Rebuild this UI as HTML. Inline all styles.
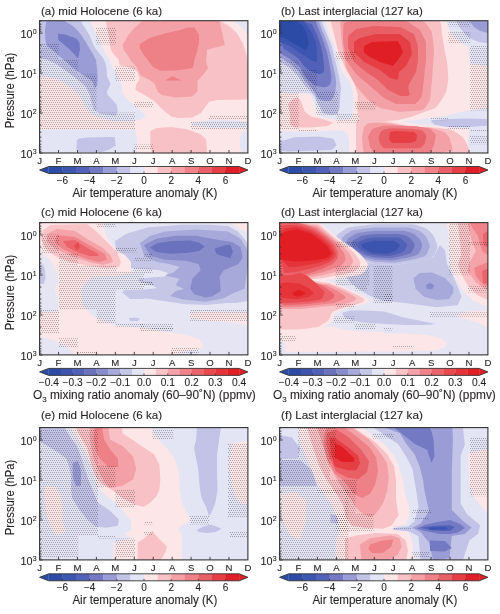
<!DOCTYPE html><html><head><meta charset="utf-8"><style>html,body{margin:0;padding:0;background:#fff;overflow:hidden}svg{display:block;will-change:transform}text{stroke:#231f20;stroke-width:0.1px;paint-order:stroke}</style></head><body>
<svg width="500" height="614" viewBox="0 0 500 614">
<defs>
<pattern id="stip" patternUnits="userSpaceOnUse" width="4" height="4" x="0" y="0"><path d="M0 0h1v1h-1zM2 0h1v1h-1zM1 2h1v1h-1zM3 2h1v1h-1z" fill="#000" fill-opacity="0.3"/></pattern>
<clipPath id="clipa"><rect x="39.6" y="20.7" width="208.3" height="132.3"/></clipPath>
<clipPath id="clipb"><rect x="279.6" y="20.7" width="208.3" height="132.3"/></clipPath>
<clipPath id="clipc"><rect x="39.6" y="222.6" width="208.3" height="132.3"/></clipPath>
<clipPath id="clipd"><rect x="279.6" y="222.6" width="208.3" height="132.3"/></clipPath>
<clipPath id="clipe"><rect x="39.6" y="427.6" width="208.3" height="132.3"/></clipPath>
<clipPath id="clipf"><rect x="279.6" y="427.6" width="208.3" height="132.3"/></clipPath>
</defs>
<rect width="500" height="614" fill="#fff"/>
<g clip-path="url(#clipa)">
<rect x="39.6" y="20.7" width="208.3" height="132.3" fill="#fde6e7"/>
<path d="M39.6 20.7 L90.5 20.7 L91.5 24.0 L93.5 28.0 L95.5 32.0 L97.5 36.0 L99.5 40.0 L101.0 44.0 L103.0 48.0 L105.0 52.0 L107.5 56.0 L109.5 60.0 L111.0 64.0 L113.0 68.0 L116.0 72.0 L118.5 78.0 L121.0 84.0 L122.6 87.2 L121.8 92.0 L125.0 96.8 L131.4 103.2 L137.8 108.0 L144.4 114.2 L145.2 117.4 L138.0 120.6 L130.0 121.6 L39.6 121.6Z" fill="#e4e5f4"/>
<path d="M39.6 129.4 L134.8 129.4 L136.4 135.0 L137.2 143.0 L136.4 153.5 L39.6 153.5Z" fill="#e4e5f4"/>
<path d="M39.6 76.5 L50.2 77.2 L60.0 80.0 L67.0 85.6 L75.4 91.2 L81.0 99.0 L86.0 108.0 L92.0 114.0 L100.0 117.5 L112.5 121.0 L130.0 121.6 L39.6 121.6Z" fill="#fde6e7"/>
<path d="M39.6 20.7 L81.0 20.7 L82.0 23.0 L85.0 28.0 L87.5 32.0 L90.0 36.0 L91.5 40.0 L93.0 44.0 L95.0 48.0 L99.0 53.0 L103.0 58.0 L105.0 62.0 L106.5 68.0 L107.0 76.0 L110.6 84.0 L107.0 91.5 L107.6 95.0 L112.4 99.8 L116.4 104.6 L118.0 111.0 L115.6 115.8 L108.0 114.8 L100.0 113.5 L94.0 110.0 L92.0 104.0 L90.0 95.0 L86.0 87.0 L78.2 80.0 L67.0 71.6 L57.2 64.6 L47.4 59.7 L39.6 58.3Z" fill="#c2c3e6"/>
<path d="M76.8 140.5 L78.9 138.4 L87.3 137.4 L114.6 137.0 L115.7 145.8 L108.3 150.0 L102.0 152.0 L77.8 152.0 L76.4 147.9Z" fill="#c2c3e6"/>
<path d="M46.4 20.7 L64.0 20.7 L67.0 22.5 L70.0 24.0 L74.0 27.0 L78.0 31.0 L82.0 36.0 L84.5 40.0 L87.5 45.0 L90.5 50.0 L93.5 55.0 L96.0 60.0 L97.0 68.0 L97.8 80.0 L97.0 86.0 L95.0 88.0 L92.2 81.0 L81.0 73.7 L72.6 67.4 L62.8 59.0 L53.0 50.6 L47.4 46.2 L45.3 40.0 L44.9 30.5Z" fill="#9a9dd5"/>
<path d="M57.9 33.6 L66.3 34.7 L70.0 36.5 L74.0 37.5 L77.5 39.5 L79.5 43.0 L80.0 50.0 L78.0 58.5 L73.6 53.6 L68.4 48.3 L62.1 43.1 L58.3 40.0Z" fill="#7479c3"/>
<path d="M106.0 20.7 L219.6 20.7 L228.0 25.2 L236.4 32.6 L242.7 43.1 L246.9 55.7 L249.0 68.3 L249.0 99.6 L217.5 100.0 L209.1 101.7 L206.0 105.9 L200.7 113.2 L192.3 117.4 L177.6 118.1 L171.3 116.4 L160.8 108.0 L155.2 101.8 L148.0 97.0 L139.6 92.2 L135.4 89.8 L136.0 85.0 L139.6 79.0 L137.2 71.8 L132.4 68.2 L127.6 67.0 L119.8 65.2 L118.6 59.8 L114.4 55.0 L112.0 52.0 L110.0 46.0 L109.5 40.0 L108.0 32.0 L106.5 26.0Z" fill="#f8c1c5"/>
<path d="M232.2 20.7 L249.0 20.7 L249.0 38.9 L244.8 30.5 L239.5 25.2Z" fill="#e4e5f4"/>
<path d="M142.4 20.7 L219.6 20.7 L222.1 32.6 L224.8 45.2 L207.0 49.4 L206.0 62.0 L208.0 68.3 L202.8 75.0 L197.5 81.0 L197.5 91.2 L192.3 96.5 L175.5 97.5 L162.0 95.0 L158.0 92.0 L156.0 88.0 L155.0 84.0 L150.4 80.2 L140.8 75.4 L136.0 66.0 L131.2 61.0 L127.6 55.0 L123.8 50.0 L122.6 45.2 L128.0 35.6 L134.0 28.4Z" fill="#f3a0a6"/>
<path d="M139.4 47.6 L140.0 44.0 L149.6 38.0 L158.0 35.6 L165.0 33.6 L181.8 29.5 L188.1 27.4 L194.4 27.4 L199.0 34.7 L199.0 43.1 L196.5 53.6 L194.4 59.9 L193.3 66.2 L192.3 68.3 L175.5 70.4 L160.8 70.8 L152.8 67.0 L148.4 60.8 L143.6 54.8Z" fill="#ee8087"/>
<path d="M165.0 80.5 L172.3 76.3 L181.8 80.5Z" fill="#ee8087"/>
<path d="M150.3 131.1 L156.6 128.0 L171.3 126.9 L186.0 129.0 L200.7 134.2 L206.0 139.5 L207.0 150.0 L206.0 154.0 L152.4 154.0 L150.3 145.8Z" fill="#f8c1c5"/>
<path d="M191.2 122.7 L207.0 120.6 L219.6 119.5 L236.4 120.6 L244.8 121.5 L249.0 121.0 L249.0 128.0 L244.8 127.5 L236.4 128.0 L211.2 128.0 L196.5 125.9 L191.2 124.8Z" fill="#e4e5f4"/>
<path d="M240.6 135.3 L244.8 130.0 L249.0 129.0 L249.0 154.0 L242.7 154.0 L239.5 145.8Z" fill="#e4e5f4"/>
<path d="M96.0 27.0 L116.0 27.0 L116.0 44.5 L96.0 44.5Z" fill="url(#stip)"/>
<path d="M39.6 44.0 L58.6 44.0 L58.6 59.0 L78.2 59.0 L78.2 74.4 L96.4 74.4 L96.4 112.5 L135.0 112.5 L135.0 129.4 L39.6 129.4Z" fill="url(#stip)"/>
<path d="M115.0 66.4 L134.8 66.4 L134.8 80.8 L115.0 80.8Z" fill="url(#stip)"/>
<path d="M134.0 101.4 L153.2 101.4 L153.2 107.0 L134.0 107.0Z" fill="url(#stip)"/>
<path d="M134.0 144.6 L153.2 144.6 L153.2 149.4 L134.0 149.4Z" fill="url(#stip)"/>
<path d="M191.0 121.0 L249.0 121.0 L249.0 129.0 L191.0 129.0Z" fill="url(#stip)"/>
<path d="M209.0 115.5 L249.0 115.5 L249.0 119.0 L209.0 119.0Z" fill="url(#stip)"/>
</g>
<rect x="39.6" y="20.7" width="208.3" height="132.3" fill="none" stroke="#333" stroke-width="1.1"/>
<path d="M39.6 33.10h3 M39.6 45.14h1.8 M39.6 52.18h1.8 M39.6 57.18h1.8 M39.6 61.06h1.8 M39.6 64.23h1.8 M39.6 66.90h1.8 M39.6 69.22h1.8 M39.6 71.27h1.8 M39.6 73.10h3 M39.6 85.14h1.8 M39.6 92.18h1.8 M39.6 97.18h1.8 M39.6 101.06h1.8 M39.6 104.23h1.8 M39.6 106.90h1.8 M39.6 109.22h1.8 M39.6 111.27h1.8 M39.6 113.10h3 M39.6 125.14h1.8 M39.6 132.18h1.8 M39.6 137.18h1.8 M39.6 141.06h1.8 M39.6 144.23h1.8 M39.6 146.90h1.8 M39.6 149.22h1.8 M39.6 151.27h1.8 M39.6 153.10h3 M39.6 21.06h1.8 M39.6 24.23h1.8 M39.6 26.90h1.8 M39.6 29.22h1.8 M39.6 31.27h1.8 M58.54 153.0v-3 M77.47 153.0v-3 M96.41 153.0v-3 M115.35 153.0v-3 M134.28 153.0v-3 M153.22 153.0v-3 M172.15 153.0v-3 M191.09 153.0v-3 M210.03 153.0v-3 M228.96 153.0v-3" stroke="#333" stroke-width="0.9" fill="none"/>
<text x="32.4" y="37.7" font-family="Liberation Sans, sans-serif" font-size="10.8" text-anchor="end" fill="#231f20">10</text>
<text x="32.7" y="33.6" font-family="Liberation Sans, sans-serif" font-size="7" fill="#231f20">0</text>
<text x="32.4" y="77.7" font-family="Liberation Sans, sans-serif" font-size="10.8" text-anchor="end" fill="#231f20">10</text>
<text x="32.7" y="73.6" font-family="Liberation Sans, sans-serif" font-size="7" fill="#231f20">1</text>
<text x="32.4" y="117.7" font-family="Liberation Sans, sans-serif" font-size="10.8" text-anchor="end" fill="#231f20">10</text>
<text x="32.7" y="113.6" font-family="Liberation Sans, sans-serif" font-size="7" fill="#231f20">2</text>
<text x="32.4" y="157.7" font-family="Liberation Sans, sans-serif" font-size="10.8" text-anchor="end" fill="#231f20">10</text>
<text x="32.7" y="153.6" font-family="Liberation Sans, sans-serif" font-size="7" fill="#231f20">3</text>
<text x="39.6" y="164.0" font-family="Liberation Sans, sans-serif" font-size="9.6" text-anchor="middle" fill="#231f20">J</text>
<text x="58.5" y="164.0" font-family="Liberation Sans, sans-serif" font-size="9.6" text-anchor="middle" fill="#231f20">F</text>
<text x="77.5" y="164.0" font-family="Liberation Sans, sans-serif" font-size="9.6" text-anchor="middle" fill="#231f20">M</text>
<text x="96.4" y="164.0" font-family="Liberation Sans, sans-serif" font-size="9.6" text-anchor="middle" fill="#231f20">A</text>
<text x="115.3" y="164.0" font-family="Liberation Sans, sans-serif" font-size="9.6" text-anchor="middle" fill="#231f20">M</text>
<text x="134.3" y="164.0" font-family="Liberation Sans, sans-serif" font-size="9.6" text-anchor="middle" fill="#231f20">J</text>
<text x="153.2" y="164.0" font-family="Liberation Sans, sans-serif" font-size="9.6" text-anchor="middle" fill="#231f20">J</text>
<text x="172.2" y="164.0" font-family="Liberation Sans, sans-serif" font-size="9.6" text-anchor="middle" fill="#231f20">A</text>
<text x="191.1" y="164.0" font-family="Liberation Sans, sans-serif" font-size="9.6" text-anchor="middle" fill="#231f20">S</text>
<text x="210.0" y="164.0" font-family="Liberation Sans, sans-serif" font-size="9.6" text-anchor="middle" fill="#231f20">O</text>
<text x="229.0" y="164.0" font-family="Liberation Sans, sans-serif" font-size="9.6" text-anchor="middle" fill="#231f20">N</text>
<text x="247.9" y="164.0" font-family="Liberation Sans, sans-serif" font-size="9.6" text-anchor="middle" fill="#231f20">D</text>
<text x="41.0" y="14.6" font-family="Liberation Sans, sans-serif" font-size="11" fill="#231f20" textLength="121" lengthAdjust="spacingAndGlyphs">(a) mid Holocene (6 ka)</text>
<path d="M39.6 170.0 L48.8 166.5 L48.8 173.5 Z" fill="#2b4ba6"/>
<path d="M247.9 170.0 L239.2 166.5 L239.2 173.5 Z" fill="#e01e26"/>
<rect x="48.80" y="166.5" width="13.90" height="7.0" fill="#2b4ba6"/>
<rect x="62.40" y="166.5" width="13.90" height="7.0" fill="#3b55b0"/>
<rect x="76.00" y="166.5" width="13.90" height="7.0" fill="#5261b8"/>
<rect x="89.60" y="166.5" width="13.90" height="7.0" fill="#7479c3"/>
<rect x="103.20" y="166.5" width="13.90" height="7.0" fill="#9a9dd5"/>
<rect x="116.80" y="166.5" width="13.90" height="7.0" fill="#c2c3e6"/>
<rect x="130.40" y="166.5" width="13.90" height="7.0" fill="#e4e5f4"/>
<rect x="144.00" y="166.5" width="13.90" height="7.0" fill="#fde6e7"/>
<rect x="157.60" y="166.5" width="13.90" height="7.0" fill="#f8c1c5"/>
<rect x="171.20" y="166.5" width="13.90" height="7.0" fill="#f3a0a6"/>
<rect x="184.80" y="166.5" width="13.90" height="7.0" fill="#ee8087"/>
<rect x="198.40" y="166.5" width="13.90" height="7.0" fill="#e95f66"/>
<rect x="212.00" y="166.5" width="13.90" height="7.0" fill="#e53e44"/>
<rect x="225.60" y="166.5" width="13.90" height="7.0" fill="#e01e26"/>
<path d="M39.6 170.0 L48.8 166.5 L239.2 166.5 L247.9 170.0 L239.2 173.5 L48.8 173.5 Z" fill="none" stroke="#333" stroke-width="0.9"/>
<path d="M62.40 173.5v-2 M89.60 173.5v-2 M116.80 173.5v-2 M144.00 173.5v-2 M171.20 173.5v-2 M198.40 173.5v-2 M225.60 173.5v-2" stroke="#333" stroke-width="0.8"/>
<text x="62.4" y="184.1" font-family="Liberation Sans, sans-serif" font-size="10" text-anchor="middle" fill="#231f20">−6</text>
<text x="89.6" y="184.1" font-family="Liberation Sans, sans-serif" font-size="10" text-anchor="middle" fill="#231f20">−4</text>
<text x="116.8" y="184.1" font-family="Liberation Sans, sans-serif" font-size="10" text-anchor="middle" fill="#231f20">−2</text>
<text x="144.0" y="184.1" font-family="Liberation Sans, sans-serif" font-size="10" text-anchor="middle" fill="#231f20">0</text>
<text x="171.2" y="184.1" font-family="Liberation Sans, sans-serif" font-size="10" text-anchor="middle" fill="#231f20">2</text>
<text x="198.4" y="184.1" font-family="Liberation Sans, sans-serif" font-size="10" text-anchor="middle" fill="#231f20">4</text>
<text x="225.6" y="184.1" font-family="Liberation Sans, sans-serif" font-size="10" text-anchor="middle" fill="#231f20">6</text>
<text x="72.4" y="196.6" font-family="Liberation Sans, sans-serif" font-size="12.4" fill="#231f20" textLength="145" lengthAdjust="spacingAndGlyphs">Air temperature anomaly (K)</text>
<g clip-path="url(#clipb)">
<rect x="279.6" y="20.7" width="208.3" height="132.3" fill="#fde6e7"/>
<path d="M330.0 36.0 L330.7 37.7 L331.5 39.5 L332.3 41.4 L333.2 43.5 L334.1 45.7 L334.8 48.0 L335.5 50.4 L336.2 53.0 L337.2 56.0 L338.3 59.3 L339.4 62.9 L340.3 66.8 L342.8 72.3 L350.4 83.2 L352.6 90.6 L352.9 96.9 L353.0 103.9 L352.8 111.5 L351.4 118.2 L346.5 120.0 L340.8 120.1 L335.2 119.5 L329.6 118.4 L324.4 117.3 L319.4 116.0 L310.4 94.4 L307.1 93.5 L304.0 93.1 L301.0 93.2 L298.0 93.3 L295.0 93.5 L292.0 93.3 L288.9 93.2 L285.9 93.0 L282.7 93.0 L279.6 92.6 L279.6 83.9 L279.6 77.3 L279.6 72.1 L279.6 67.9 L279.6 64.3 L279.6 61.3 L279.6 58.7 L279.6 56.4 L279.6 54.4 L279.6 52.6 L279.6 50.9 L279.6 49.4 L279.6 47.9 L279.6 46.6 L279.6 45.4 L279.6 44.2 L279.6 43.1 L279.6 42.0 L279.6 40.9 L279.6 39.9 L279.6 38.9 L279.6 37.9 L279.6 37.0 L279.6 36.0 L279.6 35.0 L279.6 34.1 L279.6 33.1 L279.6 32.1 L279.6 31.1 L279.6 30.0 L279.6 28.9 L279.6 27.8 L279.6 26.6 L279.6 25.4 L279.6 24.1 L279.6 22.6 L279.6 21.1 L281.0 20.7 L282.7 20.7 L284.2 20.7 L285.6 20.7 L286.9 20.7 L288.1 20.7 L289.2 20.7 L290.2 20.7 L291.2 20.7 L292.1 20.7 L293.0 20.7 L293.9 20.7 L294.7 20.7 L295.6 20.7 L296.4 20.7 L297.2 20.7 L298.0 20.7 L298.8 20.7 L299.6 20.7 L300.4 20.7 L301.3 20.7 L302.1 20.7 L303.0 20.7 L303.9 20.7 L304.8 20.7 L305.8 20.7 L306.8 20.7 L307.9 20.7 L309.1 20.7 L310.4 20.7 L311.8 20.7 L313.3 20.7 L315.0 20.7 L316.9 20.7 L319.1 20.7 L321.6 20.7 L324.5 20.7 L325.1 22.2 L325.6 23.7 L326.2 25.2 L326.7 26.7 L327.3 28.1 L327.8 29.7 L328.4 31.2 L328.9 32.8 L329.5 34.4Z" fill="#e4e5f4"/>
<path d="M327.6 36.0 L328.2 37.6 L328.9 39.3 L329.7 41.0 L330.4 42.9 L331.3 44.9 L331.9 47.0 L332.4 49.2 L332.9 51.5 L333.5 54.1 L334.3 57.0 L335.2 60.2 L336.2 63.7 L337.0 67.6 L338.0 72.0 L339.3 77.3 L340.3 83.0 L340.9 89.0 L340.5 94.6 L340.0 100.6 L339.6 108.0 L337.6 113.8 L333.2 115.0 L328.1 114.4 L323.0 112.9 L314.2 96.3 L309.4 89.8 L306.1 86.9 L302.9 83.1 L300.3 79.2 L298.0 76.0 L296.0 74.0 L294.2 72.2 L292.5 70.5 L291.0 69.0 L289.5 67.7 L288.0 66.8 L286.5 65.9 L285.1 65.0 L283.7 64.1 L282.3 63.2 L280.9 62.4 L279.6 61.3 L279.6 58.7 L279.6 56.4 L279.6 54.4 L279.6 52.6 L279.6 50.9 L279.6 49.4 L279.6 47.9 L279.6 46.6 L279.6 45.4 L279.6 44.2 L279.6 43.1 L279.6 42.0 L279.6 40.9 L279.6 39.9 L279.6 38.9 L279.6 37.9 L279.6 37.0 L279.6 36.0 L279.6 35.0 L279.6 34.1 L279.6 33.1 L279.6 32.1 L279.6 31.1 L279.6 30.0 L279.6 28.9 L279.6 27.8 L279.6 26.6 L279.6 25.4 L279.6 24.1 L279.6 22.6 L279.6 21.1 L281.0 20.7 L282.7 20.7 L284.2 20.7 L285.6 20.7 L286.9 20.7 L288.1 20.7 L289.2 20.7 L290.2 20.7 L291.2 20.7 L292.1 20.7 L293.0 20.7 L293.9 20.7 L294.7 20.7 L295.6 20.7 L296.4 20.7 L297.2 20.7 L298.0 20.7 L298.8 20.7 L299.6 20.7 L300.4 20.7 L301.3 20.7 L302.1 20.7 L303.0 20.7 L303.9 20.7 L304.8 20.7 L305.8 20.7 L306.8 20.7 L307.9 20.7 L309.1 20.7 L310.4 20.7 L311.8 20.7 L313.3 20.7 L315.0 20.7 L316.9 20.7 L319.1 20.7 L321.5 20.7 L322.0 22.1 L322.6 23.5 L323.1 24.8 L323.6 26.2 L324.1 27.5 L324.6 28.9 L325.2 30.2 L325.8 31.6 L326.4 33.0 L327.0 34.5Z" fill="#c2c3e6"/>
<path d="M324.5 36.0 L325.1 37.4 L325.6 38.9 L326.3 40.5 L326.9 42.1 L327.6 43.9 L328.2 45.8 L328.7 47.8 L329.3 49.9 L329.9 52.3 L330.7 54.9 L331.4 57.7 L332.1 60.8 L332.8 64.2 L333.6 68.1 L334.7 72.7 L335.6 77.7 L336.2 83.1 L335.8 88.1 L334.9 92.8 L333.4 97.3 L330.9 100.5 L326.9 100.9 L322.7 100.4 L318.5 99.0 L312.2 89.1 L308.3 84.4 L305.1 80.9 L302.3 76.8 L299.9 73.2 L298.0 70.6 L296.3 69.0 L294.7 67.6 L293.2 66.3 L291.8 65.0 L290.5 63.9 L289.2 63.0 L287.9 62.2 L286.7 61.5 L285.4 60.7 L284.2 60.0 L282.9 59.2 L281.8 58.4 L281.2 56.7 L280.7 55.3 L280.1 53.9 L279.6 52.6 L279.6 50.9 L279.6 49.4 L279.6 47.9 L279.6 46.6 L279.6 45.4 L279.6 44.2 L279.6 43.1 L279.6 42.0 L279.6 40.9 L279.6 39.9 L279.6 38.9 L279.6 37.9 L279.6 37.0 L279.6 36.0 L279.6 35.0 L279.6 34.1 L279.6 33.1 L279.6 32.1 L279.6 31.1 L279.6 30.0 L279.6 28.9 L279.6 27.8 L279.6 26.6 L279.6 25.4 L279.6 24.1 L279.6 22.6 L279.6 21.1 L281.0 20.7 L282.7 20.7 L284.2 20.7 L285.6 20.7 L286.9 20.7 L288.1 20.7 L289.2 20.7 L290.2 20.7 L291.2 20.7 L292.1 20.7 L293.0 20.7 L293.9 20.7 L294.7 20.7 L295.6 20.7 L296.4 20.7 L297.2 20.7 L298.0 20.7 L298.8 20.7 L299.6 20.7 L300.4 20.7 L301.3 20.7 L302.1 20.7 L303.0 20.7 L303.9 20.7 L304.8 20.7 L305.8 20.7 L306.8 20.7 L307.9 20.7 L309.1 20.7 L310.4 20.7 L311.8 20.7 L313.3 20.7 L315.0 20.7 L316.3 21.2 L317.6 21.7 L319.1 22.3 L319.6 23.5 L320.1 24.8 L320.5 26.0 L321.0 27.2 L321.5 28.4 L321.9 29.6 L322.4 30.8 L322.9 32.1 L323.4 33.3 L324.0 34.6Z" fill="#9a9dd5"/>
<path d="M321.4 36.0 L321.9 37.3 L322.4 38.6 L322.9 39.9 L323.4 41.4 L324.0 43.0 L324.5 44.6 L325.0 46.4 L325.6 48.3 L326.3 50.4 L327.0 52.8 L327.6 55.2 L328.1 57.9 L328.7 60.8 L329.3 64.2 L330.0 68.0 L330.8 72.5 L331.4 77.3 L331.1 81.6 L329.7 84.9 L327.2 86.6 L324.1 87.2 L320.6 86.8 L317.3 86.3 L313.9 85.1 L310.3 81.8 L307.1 79.0 L304.1 74.8 L301.6 70.5 L299.6 67.1 L298.0 65.2 L296.5 64.1 L295.2 63.0 L293.9 62.0 L292.7 61.1 L291.5 60.2 L290.4 59.3 L289.3 58.6 L288.2 57.9 L287.1 57.3 L286.1 56.7 L285.0 56.0 L283.9 55.4 L282.8 54.7 L281.7 54.1 L280.6 53.4 L279.6 52.6 L279.6 50.9 L279.6 49.4 L279.6 47.9 L279.6 46.6 L279.6 45.4 L279.6 44.2 L279.6 43.1 L279.6 42.0 L279.6 40.9 L279.6 39.9 L279.6 38.9 L279.6 37.9 L279.6 37.0 L279.6 36.0 L279.6 35.0 L279.6 34.1 L279.6 33.1 L279.6 32.1 L279.6 31.1 L279.6 30.0 L279.6 28.9 L279.6 27.8 L279.6 26.6 L279.6 25.4 L279.6 24.1 L279.6 22.6 L279.6 21.1 L281.0 20.7 L282.7 20.7 L284.2 20.7 L285.6 20.7 L286.9 20.7 L288.1 20.7 L289.2 20.7 L290.2 20.7 L291.2 20.7 L292.1 20.7 L293.0 20.7 L293.9 20.7 L294.7 20.7 L295.6 20.7 L296.4 20.7 L297.2 20.7 L298.0 20.7 L298.8 20.7 L299.6 20.7 L300.4 20.7 L301.3 20.7 L302.1 20.7 L303.0 20.7 L303.9 20.7 L304.8 20.7 L305.8 20.7 L306.8 20.7 L307.9 20.7 L309.1 20.7 L310.4 20.7 L311.8 20.7 L313.3 20.7 L315.0 20.7 L315.8 21.6 L316.2 22.8 L316.7 23.9 L317.1 25.0 L317.5 26.0 L318.0 27.1 L318.4 28.2 L318.8 29.2 L319.2 30.3 L319.7 31.4 L320.1 32.5 L320.5 33.6 L320.9 34.8Z" fill="#7479c3"/>
<path d="M317.4 36.0 L317.7 37.0 L318.1 38.1 L318.6 39.3 L319.0 40.5 L319.5 41.7 L319.9 43.1 L320.4 44.6 L320.9 46.2 L321.3 47.9 L321.7 49.7 L322.1 51.6 L322.4 53.7 L322.8 56.0 L323.2 58.7 L323.5 61.5 L323.9 64.8 L324.2 68.3 L324.0 71.8 L322.2 73.2 L319.9 73.9 L317.1 73.4 L314.2 72.4 L311.6 71.5 L309.1 70.3 L306.6 68.2 L304.5 66.4 L302.4 64.0 L300.7 61.5 L299.2 59.5 L298.0 58.3 L296.9 57.4 L295.8 56.7 L294.8 55.9 L293.9 55.3 L293.0 54.6 L292.2 54.0 L291.3 53.4 L290.5 52.9 L289.7 52.4 L288.8 51.9 L288.0 51.4 L287.2 50.9 L286.4 50.3 L285.5 49.9 L284.6 49.4 L283.7 48.8 L283.4 47.8 L283.0 46.9 L282.6 46.0 L282.1 45.2 L281.6 44.3 L281.1 43.5 L280.5 42.7 L279.9 41.9 L279.6 40.9 L279.6 39.9 L279.6 38.9 L279.6 37.9 L279.6 37.0 L279.6 36.0 L279.6 35.0 L279.6 34.1 L279.6 33.1 L279.6 32.1 L279.6 31.1 L279.6 30.0 L279.6 28.9 L279.6 27.8 L279.6 26.6 L279.6 25.4 L279.6 24.1 L279.6 22.6 L279.6 21.1 L281.0 20.7 L282.7 20.7 L284.2 20.7 L285.6 20.7 L286.9 20.7 L288.1 20.7 L289.2 20.7 L290.2 20.7 L291.2 20.7 L292.1 20.7 L293.0 20.7 L293.9 20.7 L294.7 20.7 L295.6 20.7 L296.4 20.7 L297.2 20.7 L298.0 20.7 L298.8 20.7 L299.6 20.7 L300.4 20.7 L301.3 20.7 L302.1 20.7 L302.9 20.8 L303.7 21.1 L304.5 21.5 L305.2 21.8 L306.0 22.1 L306.8 22.4 L307.7 22.7 L308.5 23.0 L309.5 23.3 L310.4 23.6 L311.5 23.9 L312.1 24.6 L312.5 25.5 L312.9 26.3 L313.3 27.2 L313.7 28.0 L314.1 28.8 L314.5 29.7 L315.0 30.5 L315.4 31.3 L315.8 32.2 L316.2 33.1 L316.6 34.0 L317.0 35.0Z" fill="#5261b8"/>
<path d="M313.3 36.0 L313.6 36.8 L313.9 37.7 L314.2 38.6 L314.6 39.5 L314.9 40.5 L315.3 41.6 L315.7 42.8 L316.1 44.1 L316.3 45.3 L316.4 46.6 L316.5 48.0 L316.7 49.6 L316.9 51.3 L317.1 53.2 L317.0 55.0 L317.0 57.1 L316.9 59.3 L316.8 61.9 L314.6 61.5 L312.5 61.1 L310.0 59.6 L307.8 58.0 L305.9 56.7 L304.4 55.6 L303.0 54.7 L301.8 53.9 L300.7 53.1 L299.7 52.5 L298.8 51.9 L298.0 51.3 L297.2 50.8 L296.5 50.3 L295.8 49.9 L295.1 49.4 L294.5 49.0 L293.9 48.6 L293.3 48.2 L292.7 47.8 L292.2 47.4 L291.6 47.1 L291.1 46.7 L290.5 46.3 L289.9 46.0 L289.3 45.7 L288.6 45.4 L287.9 45.1 L287.1 44.8 L286.4 44.5 L285.5 44.1 L284.6 43.7 L283.6 43.3 L282.6 42.9 L281.4 42.4 L280.1 41.8 L279.6 40.9 L279.6 39.9 L279.6 38.9 L279.6 37.9 L279.6 37.0 L279.6 36.0 L279.6 35.0 L279.6 34.1 L279.6 33.1 L279.6 32.1 L279.6 31.1 L279.6 30.0 L279.6 28.9 L279.6 27.8 L279.6 26.6 L279.6 25.4 L279.6 24.1 L279.6 22.6 L279.6 21.1 L281.0 20.7 L282.7 20.7 L284.2 20.7 L285.6 20.7 L286.9 20.7 L288.1 20.7 L289.2 20.7 L290.2 20.7 L291.2 20.7 L292.1 20.7 L293.0 20.7 L293.9 20.7 L294.7 20.7 L295.6 20.7 L296.4 20.7 L297.2 20.7 L298.0 20.7 L298.8 20.7 L299.6 20.7 L300.4 20.7 L301.3 20.7 L302.1 20.7 L302.9 20.8 L303.5 21.6 L304.1 22.2 L304.7 22.9 L305.2 23.5 L305.7 24.1 L306.2 24.7 L306.7 25.3 L307.2 25.8 L307.6 26.4 L308.0 27.0 L308.3 27.6 L308.7 28.2 L309.1 28.8 L309.5 29.4 L309.9 29.9 L310.3 30.5 L310.7 31.1 L311.1 31.7 L311.5 32.4 L312.0 33.0 L312.4 33.7 L312.8 34.4 L313.0 35.2Z" fill="#3b55b0"/>
<path d="M307.4 36.0 L307.5 36.5 L307.6 37.0 L307.7 37.5 L307.8 38.1 L307.9 38.7 L308.1 39.3 L308.2 39.9 L308.3 40.6 L308.5 41.3 L308.6 42.1 L308.8 43.0 L309.0 44.0 L308.7 44.6 L308.3 45.3 L308.0 46.0 L307.6 46.7 L307.3 47.5 L306.9 48.2 L306.5 49.1 L306.0 49.9 L304.8 49.4 L303.7 48.9 L302.8 48.4 L301.9 47.9 L301.1 47.5 L300.4 47.2 L299.7 46.9 L299.1 46.6 L298.5 46.3 L298.0 46.0 L297.5 45.7 L297.0 45.4 L296.6 45.1 L296.1 44.9 L295.7 44.6 L295.3 44.4 L294.9 44.1 L294.5 43.9 L294.1 43.7 L293.7 43.4 L293.3 43.2 L292.9 43.0 L292.6 42.7 L292.2 42.5 L291.8 42.2 L291.3 42.0 L290.9 41.7 L290.5 41.5 L290.0 41.2 L289.5 40.9 L289.0 40.6 L288.4 40.3 L287.8 39.9 L287.1 39.6 L286.2 39.2 L285.3 38.7 L284.2 38.2 L282.9 37.6 L281.4 36.9 L279.6 36.0 L279.6 35.0 L279.6 34.1 L279.6 33.1 L279.6 32.1 L279.6 31.1 L279.6 30.0 L279.6 28.9 L279.6 27.8 L279.6 26.6 L279.6 25.4 L279.6 24.1 L279.6 22.6 L279.6 21.1 L281.0 20.7 L282.7 20.7 L284.2 20.7 L285.6 20.7 L286.9 20.7 L288.1 20.7 L289.2 20.7 L290.2 20.7 L291.2 20.7 L292.1 20.7 L293.0 20.7 L293.9 20.7 L294.7 20.7 L295.6 20.7 L296.4 21.0 L297.2 21.6 L298.0 22.2 L298.7 22.7 L299.3 23.2 L299.9 23.7 L300.5 24.1 L301.1 24.5 L301.6 24.9 L302.1 25.3 L302.6 25.7 L303.0 26.1 L303.4 26.7 L303.6 27.3 L303.9 27.8 L304.2 28.4 L304.4 28.9 L304.7 29.3 L304.9 29.8 L305.1 30.2 L305.3 30.7 L305.5 31.1 L305.8 31.5 L306.0 31.9 L306.2 32.4 L306.4 32.8 L306.6 33.2 L306.8 33.6 L307.0 34.1 L307.1 34.6 L307.2 35.0 L307.3 35.5Z" fill="#2b4ba6"/>
<path d="M446.0 20.7 L449.0 30.0 L455.0 38.0 L463.0 44.0 L470.0 48.0 L488.0 50.0 L488.0 20.7Z" fill="#e4e5f4"/>
<path d="M468.0 45.0 L488.0 45.0 L488.0 66.0 L470.0 64.0Z" fill="#e4e5f4"/>
<path d="M456.0 20.7 L460.0 28.0 L465.0 34.0 L471.0 39.0 L479.0 42.0 L488.0 43.5 L488.0 20.7Z" fill="#c2c3e6"/>
<path d="M469.0 20.7 L474.0 27.0 L480.0 31.0 L488.0 33.0 L488.0 20.7Z" fill="#9a9dd5"/>
<path d="M279.6 130.8 L295.0 131.5 L319.0 131.6 L335.0 130.0 L343.0 130.8 L347.8 134.0 L349.4 142.0 L348.6 154.0 L279.6 154.0Z" fill="#e4e5f4"/>
<path d="M279.6 141.6 L295.0 137.2 L319.0 136.4 L333.4 138.8 L336.6 145.2 L331.8 150.0 L311.0 150.8 L288.6 151.6 L279.6 150.8Z" fill="#c2c3e6"/>
<path d="M470.0 127.0 L476.0 128.0 L488.0 128.0 L488.0 154.0 L470.0 154.0 L468.0 140.0Z" fill="#e4e5f4"/>
<path d="M288.6 103.6 L293.4 98.8 L298.2 97.2 L301.4 102.0 L304.6 111.6 L311.0 116.4 L323.8 119.6 L333.4 122.8 L327.0 126.0 L311.0 127.6 L295.0 127.6 L290.2 124.4 L290.2 114.8 L288.6 106.8Z" fill="#f8c1c5"/>
<path d="M445.1 52.0 L445.7 55.2 L446.3 58.4 L447.0 61.8 L447.4 65.3 L447.7 68.8 L447.9 72.4 L448.2 76.3 L448.2 80.1 L447.6 83.9 L446.9 87.7 L446.2 91.8 L444.4 95.2 L442.6 98.6 L440.3 101.8 L437.9 104.9 L435.4 107.9 L431.5 109.4 L427.7 110.7 L424.0 112.0 L420.4 113.4 L417.0 114.7 L413.5 116.0 L410.0 117.2 L406.5 118.0 L402.9 118.9 L399.4 119.7 L395.8 120.2 L392.2 120.6 L388.6 121.0 L385.0 121.4 L381.3 121.9 L377.7 121.9 L374.0 121.7 L370.2 121.5 L366.4 121.3 L362.5 121.1 L359.4 118.7 L357.8 113.0 L357.2 106.5 L357.7 99.3 L357.7 94.1 L356.7 91.0 L355.7 88.2 L354.8 85.5 L354.0 83.0 L352.9 80.9 L351.7 78.9 L350.6 77.0 L349.4 75.1 L348.3 73.2 L347.1 71.3 L346.0 69.4 L345.1 67.3 L344.2 65.2 L343.3 63.2 L342.4 61.1 L341.5 58.9 L340.5 56.7 L339.6 54.4 L338.5 52.0 L337.8 49.5 L337.1 47.0 L336.5 44.3 L335.8 41.5 L335.1 38.6 L334.3 35.5 L333.4 32.2 L332.5 28.6 L331.5 24.7 L330.8 20.7 L336.8 20.7 L341.9 20.7 L346.3 20.7 L350.2 20.7 L353.7 20.7 L356.8 20.7 L359.7 20.7 L362.3 20.7 L364.7 20.7 L366.9 20.7 L369.1 20.7 L371.1 20.7 L373.0 20.7 L374.8 20.7 L376.6 20.7 L378.3 20.7 L380.0 20.7 L381.7 20.7 L383.4 20.7 L385.0 20.7 L386.6 20.7 L388.3 20.7 L390.0 20.7 L391.7 20.7 L393.4 20.7 L395.2 20.7 L397.0 20.7 L398.9 20.7 L400.9 20.7 L403.1 20.7 L405.3 20.7 L407.7 20.7 L410.3 20.7 L413.2 20.7 L416.3 20.7 L419.8 20.7 L423.7 20.7 L428.1 20.7 L433.2 20.7 L439.2 20.7 L440.9 23.5 L441.3 27.0 L441.6 30.3 L441.9 33.5 L442.4 36.6 L442.9 39.7 L443.4 42.7 L443.9 45.8 L444.5 48.9Z" fill="#f8c1c5"/>
<path d="M433.9 52.0 L433.7 54.6 L433.5 57.1 L433.4 59.7 L433.2 62.2 L433.0 64.9 L432.8 67.5 L432.6 70.3 L432.5 73.1 L432.3 76.1 L432.1 79.2 L431.8 82.4 L431.4 85.7 L431.1 89.3 L430.7 93.1 L430.3 97.3 L429.3 101.2 L427.4 104.3 L425.4 107.6 L422.7 110.1 L418.7 110.4 L414.9 110.8 L411.3 111.1 L407.8 111.4 L404.4 111.6 L401.1 111.9 L397.7 111.5 L394.3 110.9 L391.1 110.2 L388.0 109.6 L385.0 109.0 L382.0 108.4 L379.2 107.4 L376.5 105.7 L374.0 104.0 L371.5 102.3 L369.2 100.8 L367.0 98.9 L365.1 96.6 L363.3 94.5 L361.6 92.5 L359.9 90.6 L358.3 88.7 L356.8 86.9 L355.4 84.9 L354.2 82.8 L353.1 80.7 L352.0 78.7 L350.9 76.8 L349.8 74.9 L348.7 72.9 L347.7 71.0 L346.6 69.1 L345.8 67.0 L345.5 64.8 L345.1 62.7 L344.8 60.6 L344.4 58.4 L344.1 56.3 L343.7 54.2 L343.3 52.0 L343.0 49.8 L342.6 47.5 L342.2 45.2 L341.9 42.8 L341.7 40.4 L341.5 37.9 L341.2 35.2 L341.0 32.4 L340.8 29.5 L340.5 26.3 L340.2 22.9 L341.9 20.7 L346.3 20.7 L350.2 20.7 L353.7 20.7 L356.8 20.7 L359.7 20.7 L362.3 20.7 L364.7 20.7 L366.9 20.7 L369.1 20.7 L371.1 20.7 L373.0 20.7 L374.8 20.7 L376.6 20.7 L378.3 20.7 L380.0 20.7 L381.7 20.7 L383.4 20.7 L385.0 20.7 L386.6 20.7 L388.3 20.7 L390.0 20.7 L391.7 20.7 L393.4 20.7 L395.2 20.7 L397.0 20.7 L398.9 20.7 L400.9 20.7 L403.1 20.7 L405.3 20.7 L407.7 20.7 L410.3 20.7 L413.2 20.7 L416.3 20.7 L419.8 20.7 L423.7 20.7 L425.4 22.7 L426.9 24.8 L428.4 26.9 L429.9 29.1 L431.5 31.3 L432.2 33.9 L432.5 36.6 L432.8 39.2 L433.1 41.8 L433.4 44.3 L433.7 46.9 L433.9 49.4Z" fill="#f3a0a6"/>
<path d="M426.0 52.0 L426.0 54.1 L426.0 56.3 L426.0 58.5 L425.9 60.7 L425.7 62.9 L425.4 65.1 L425.2 67.4 L424.9 69.8 L424.6 72.2 L424.4 74.7 L424.1 77.4 L423.8 80.2 L423.4 83.1 L423.1 86.3 L422.7 89.7 L422.3 93.4 L421.3 96.9 L419.4 99.4 L417.5 102.0 L415.0 104.0 L411.5 104.0 L408.2 104.0 L405.0 104.0 L401.9 104.0 L398.9 104.0 L396.1 104.0 L393.0 102.5 L390.2 101.1 L387.5 99.8 L385.0 98.5 L382.6 96.8 L380.5 95.0 L378.5 93.3 L376.6 91.6 L374.8 90.1 L373.1 88.7 L371.5 87.3 L369.9 85.9 L368.4 84.6 L366.9 83.3 L365.5 82.1 L364.0 80.9 L362.6 79.7 L361.2 78.4 L359.8 77.2 L358.3 76.0 L356.9 74.8 L355.6 73.4 L354.5 71.8 L353.3 70.3 L352.2 68.7 L351.1 67.1 L349.9 65.5 L348.7 63.8 L347.5 62.1 L346.2 60.3 L345.7 58.2 L345.4 56.2 L345.1 54.1 L344.8 52.0 L344.5 49.9 L344.2 47.7 L343.8 45.5 L343.5 43.2 L343.1 40.8 L343.0 38.4 L343.1 35.9 L343.2 33.4 L343.3 30.7 L343.4 28.0 L343.4 25.0 L344.7 22.7 L347.8 21.8 L350.6 21.1 L353.7 20.7 L356.8 20.7 L359.7 20.7 L362.3 20.7 L364.7 20.7 L366.9 20.7 L369.1 20.7 L371.1 20.7 L373.0 20.7 L374.8 20.7 L376.6 20.7 L378.3 20.7 L380.0 20.7 L381.7 20.7 L383.4 20.7 L385.0 20.7 L386.6 20.7 L388.3 20.7 L390.0 20.7 L391.7 20.7 L393.4 20.7 L395.2 20.7 L397.0 20.7 L398.9 20.7 L400.9 20.7 L403.1 20.7 L405.3 20.7 L407.2 21.5 L408.8 22.6 L410.5 23.7 L412.2 24.8 L413.9 26.0 L415.7 27.1 L417.5 28.4 L419.4 29.6 L420.7 31.4 L421.7 33.3 L422.6 35.2 L423.6 37.2 L424.6 39.1 L425.6 41.1 L426.0 43.3 L426.0 45.5 L426.0 47.7 L426.0 49.9Z" fill="#ee8087"/>
<path d="M418.0 52.0 L418.0 53.7 L418.0 55.5 L418.0 57.2 L418.0 59.0 L417.9 60.8 L417.6 62.6 L417.3 64.4 L417.0 66.2 L416.6 68.1 L416.3 70.1 L415.9 72.1 L415.0 73.8 L414.0 75.5 L413.0 77.2 L412.0 79.0 L411.0 80.8 L409.9 82.7 L408.7 84.7 L408.4 88.0 L409.8 94.9 L407.4 96.0 L404.6 96.0 L401.9 96.0 L399.2 95.6 L396.3 94.1 L393.7 92.8 L391.3 91.6 L389.0 90.5 L386.9 88.9 L385.0 87.0 L383.3 85.3 L381.7 83.7 L380.2 82.2 L378.9 80.9 L377.6 79.7 L376.3 78.9 L375.0 78.0 L373.8 77.2 L372.6 76.4 L371.4 75.6 L370.2 74.8 L369.0 74.0 L367.8 73.2 L366.6 72.4 L365.5 71.5 L364.3 70.6 L363.2 69.7 L362.0 68.7 L360.8 67.7 L359.6 66.7 L358.3 65.6 L357.0 64.5 L355.6 63.3 L354.1 62.1 L353.3 60.5 L352.7 58.9 L352.0 57.2 L351.2 55.5 L350.5 53.8 L349.7 52.0 L348.9 50.1 L348.0 48.1 L348.0 46.1 L348.0 44.1 L348.0 42.1 L348.0 40.0 L348.0 37.8 L348.4 35.7 L350.1 34.2 L351.7 32.8 L353.3 31.4 L354.8 30.1 L356.5 28.9 L358.9 28.5 L361.1 28.1 L363.2 27.8 L365.1 27.5 L367.0 27.2 L368.7 26.9 L370.3 26.6 L371.9 26.3 L373.5 26.1 L375.0 26.0 L376.6 26.1 L378.1 26.2 L379.5 26.2 L380.9 26.3 L382.3 26.3 L383.7 26.4 L385.0 26.4 L386.3 26.5 L387.7 26.5 L389.0 26.6 L390.4 26.6 L391.8 26.7 L393.2 26.7 L394.7 26.8 L396.2 26.9 L397.8 26.9 L399.4 27.0 L400.9 27.5 L402.3 28.2 L403.7 28.9 L405.2 29.6 L406.7 30.3 L408.2 31.1 L409.8 31.9 L411.5 32.7 L413.3 33.6 L414.4 35.1 L414.9 36.8 L415.5 38.4 L416.0 40.1 L416.6 41.7 L417.1 43.4 L417.7 45.1 L418.0 46.8 L418.0 48.5 L418.0 50.3Z" fill="#e95f66"/>
<path d="M411.7 52.0 L411.9 53.4 L411.6 54.8 L410.9 56.1 L410.3 57.4 L409.7 58.6 L409.1 59.8 L408.5 61.0 L407.9 62.2 L407.3 63.4 L406.7 64.5 L406.1 65.7 L405.2 66.7 L404.2 67.5 L403.2 68.4 L402.2 69.2 L401.3 70.1 L400.3 70.9 L399.3 71.7 L398.8 73.3 L398.6 75.5 L398.2 78.0 L397.4 79.8 L395.5 79.4 L393.8 78.9 L392.1 78.5 L390.6 78.1 L389.0 77.2 L387.5 76.0 L386.2 75.0 L385.0 74.0 L383.9 73.1 L382.9 72.3 L381.9 71.5 L381.0 70.8 L380.1 70.1 L379.3 69.6 L378.4 69.2 L377.5 68.8 L376.7 68.3 L375.8 67.9 L375.0 67.5 L374.1 67.0 L373.2 66.6 L372.3 66.1 L371.3 65.7 L370.4 65.2 L369.3 64.7 L368.3 64.1 L367.2 63.6 L366.0 63.0 L364.7 62.3 L363.6 61.6 L362.6 60.6 L361.6 59.6 L360.6 58.6 L359.4 57.4 L358.2 56.2 L356.9 54.9 L355.5 53.5 L354.0 52.0 L354.0 50.4 L354.0 48.7 L354.0 47.1 L354.0 45.4 L354.0 43.7 L354.1 42.0 L355.8 40.8 L357.4 39.7 L358.9 38.7 L360.5 37.9 L362.5 37.4 L364.3 36.9 L365.9 36.5 L367.4 36.2 L368.8 35.8 L370.1 35.5 L371.4 35.2 L372.5 34.9 L373.7 34.6 L374.8 34.3 L375.8 34.0 L377.0 34.0 L378.1 34.0 L379.2 34.0 L380.2 34.0 L381.2 34.0 L382.1 34.0 L383.1 34.0 L384.1 34.0 L385.0 34.0 L385.9 34.0 L386.9 34.0 L387.9 34.0 L388.8 34.0 L389.8 34.0 L390.8 34.0 L391.9 34.0 L393.0 34.0 L394.2 34.0 L395.4 34.0 L396.7 34.0 L398.1 34.0 L399.6 34.0 L400.7 34.6 L401.7 35.3 L402.6 36.1 L403.6 36.9 L404.7 37.7 L405.7 38.6 L406.8 39.4 L407.9 40.3 L409.1 41.3 L410.1 42.4 L410.3 43.8 L410.5 45.2 L410.8 46.5 L411.0 47.9 L411.2 49.2 L411.4 50.6Z" fill="#e53e44"/>
<path d="M403.0 52.0 L402.4 52.9 L401.9 53.8 L401.4 54.6 L400.9 55.4 L400.4 56.1 L400.0 56.9 L399.5 57.6 L399.1 58.3 L398.7 59.0 L398.2 59.6 L397.8 60.3 L397.2 60.9 L396.7 61.5 L396.2 62.1 L395.7 62.7 L395.2 63.3 L394.7 64.0 L394.2 64.6 L393.6 65.3 L393.0 65.9 L392.0 65.7 L391.0 65.4 L390.0 65.1 L389.2 64.8 L388.4 64.6 L387.6 64.3 L386.9 64.1 L386.3 63.9 L385.6 63.7 L385.0 63.5 L384.4 63.4 L383.8 63.2 L383.3 63.0 L382.7 62.8 L382.1 62.7 L381.6 62.5 L381.0 62.3 L380.5 62.1 L379.9 62.0 L379.4 61.7 L378.9 61.4 L378.3 61.2 L377.8 60.9 L377.2 60.6 L376.7 60.3 L376.1 60.0 L375.5 59.7 L374.8 59.4 L374.1 59.1 L373.4 58.7 L372.6 58.3 L371.8 57.9 L370.9 57.4 L369.8 56.9 L368.7 56.4 L367.7 55.7 L366.9 54.9 L366.0 54.0 L365.0 53.0 L364.0 52.0 L364.0 50.9 L364.0 49.8 L364.0 48.7 L364.0 47.5 L364.0 46.4 L365.0 45.5 L366.3 44.8 L367.5 44.2 L368.7 43.7 L369.7 43.2 L370.6 42.7 L371.5 42.2 L372.6 42.0 L373.8 41.9 L374.9 41.9 L375.9 41.9 L376.8 41.8 L377.6 41.8 L378.3 41.8 L379.1 41.7 L379.8 41.7 L380.4 41.7 L381.0 41.7 L381.6 41.6 L382.2 41.6 L382.8 41.6 L383.3 41.6 L383.9 41.5 L384.5 41.5 L385.0 41.5 L385.6 41.5 L386.1 41.5 L386.7 41.4 L387.3 41.4 L387.8 41.4 L388.5 41.4 L389.1 41.3 L389.8 41.3 L390.5 41.3 L391.2 41.3 L392.0 41.2 L392.8 41.2 L393.8 41.2 L394.8 41.1 L395.9 41.1 L397.2 41.0 L398.2 41.3 L398.5 42.2 L398.9 43.0 L399.3 43.8 L399.6 44.6 L400.0 45.3 L400.3 46.1 L400.7 46.9 L401.0 47.7 L401.4 48.5 L401.8 49.3 L402.2 50.2 L402.6 51.1Z" fill="#e01e26"/>
<path d="M462.5 137.0 L464.8 140.2 L466.6 143.7 L468.4 147.4 L470.3 151.3 L470.9 155.2 L461.5 156.0 L452.5 156.0 L445.7 156.0 L440.3 156.0 L435.9 156.0 L432.3 156.0 L429.2 156.0 L426.5 156.0 L424.1 156.0 L422.0 156.0 L420.1 156.0 L418.4 156.0 L416.8 156.0 L415.3 156.0 L414.0 156.0 L412.7 156.0 L411.5 156.0 L410.3 156.0 L409.2 156.0 L408.1 156.0 L407.0 156.0 L406.0 156.0 L405.0 156.0 L404.0 156.0 L403.0 156.0 L402.0 156.0 L401.0 156.0 L400.0 156.0 L399.0 156.0 L397.9 156.0 L396.8 156.0 L395.7 156.0 L394.5 156.0 L393.3 156.0 L392.0 156.0 L390.7 156.0 L389.2 156.0 L387.6 156.0 L385.9 156.0 L384.0 156.0 L381.9 156.0 L379.5 156.0 L376.8 156.0 L373.7 156.0 L370.1 156.0 L365.7 156.0 L360.3 156.0 L356.0 155.0 L356.0 152.3 L356.0 149.6 L356.0 147.0 L356.0 144.4 L356.0 141.9 L356.0 139.5 L356.0 137.0 L356.0 134.5 L356.0 132.1 L356.0 129.6 L356.0 127.0 L356.0 124.4 L356.8 122.0 L357.7 119.6 L363.0 119.2 L368.4 119.4 L372.9 119.6 L377.2 120.2 L380.5 120.7 L383.3 121.1 L385.7 121.4 L387.7 121.7 L389.4 121.9 L391.1 122.2 L392.5 122.6 L393.8 122.9 L395.0 123.2 L396.1 123.4 L397.1 123.6 L398.0 123.9 L398.8 124.1 L399.6 124.2 L400.3 124.4 L401.0 124.6 L401.7 124.7 L402.4 124.9 L403.0 125.0 L403.6 125.2 L404.2 125.3 L404.8 125.5 L405.4 125.5 L406.1 125.6 L406.7 125.7 L407.3 125.7 L408.0 125.8 L408.7 125.9 L409.4 125.9 L410.1 126.0 L410.9 126.1 L411.8 126.2 L412.7 126.3 L413.6 126.4 L414.7 126.5 L415.9 126.6 L417.2 126.7 L418.6 126.9 L420.3 127.0 L422.5 127.1 L425.1 127.2 L428.3 127.3 L432.5 127.4 L437.4 127.8 L442.7 128.6 L449.8 129.6 L454.9 131.5 L458.4 134.1Z" fill="#f8c1c5"/>
<path d="M449.0 137.0 L450.0 139.5 L450.7 142.0 L451.5 144.7 L452.3 147.5 L452.4 150.2 L447.3 151.4 L442.5 152.2 L438.7 152.9 L435.7 153.6 L433.1 154.4 L430.3 154.8 L427.4 154.8 L424.9 154.8 L422.7 154.8 L420.8 154.8 L419.0 154.8 L417.4 154.8 L415.9 154.8 L414.5 154.8 L413.2 154.8 L412.0 154.8 L410.9 154.8 L409.8 154.8 L408.8 154.8 L407.8 154.8 L406.8 154.8 L405.8 154.8 L404.9 154.8 L403.9 154.8 L403.0 154.8 L402.1 154.8 L401.1 154.8 L400.2 154.8 L399.2 154.8 L398.2 154.8 L397.2 154.8 L396.2 154.8 L395.1 154.8 L394.0 154.8 L392.8 154.8 L391.5 154.8 L390.1 154.8 L388.6 154.8 L387.0 154.8 L385.2 154.8 L383.3 154.8 L381.1 154.8 L378.6 154.8 L375.7 154.8 L372.5 154.6 L369.7 153.9 L366.5 153.2 L363.8 152.1 L363.2 149.9 L362.9 147.7 L362.7 145.6 L362.5 143.4 L362.4 141.3 L362.2 139.1 L362.0 137.0 L362.4 134.9 L362.9 132.8 L363.3 130.7 L363.7 128.6 L364.3 126.6 L366.1 125.0 L367.8 123.5 L371.4 122.9 L375.1 122.8 L378.1 122.7 L381.2 122.9 L383.9 123.1 L386.1 123.3 L388.0 123.5 L389.7 123.7 L391.1 123.8 L392.4 124.0 L393.7 124.1 L394.7 124.3 L395.7 124.4 L396.7 124.6 L397.5 124.7 L398.3 124.8 L399.1 124.9 L399.8 125.0 L400.5 125.1 L401.1 125.2 L401.8 125.3 L402.4 125.3 L403.0 125.4 L403.6 125.5 L404.2 125.6 L404.8 125.7 L405.4 125.7 L406.0 125.7 L406.6 125.8 L407.3 125.8 L408.0 125.8 L408.7 125.9 L409.4 125.9 L410.2 126.0 L411.0 126.0 L411.9 126.1 L412.8 126.1 L413.8 126.2 L414.9 126.3 L416.0 126.5 L417.3 126.6 L418.7 126.8 L420.3 127.0 L422.3 127.2 L424.6 127.4 L427.4 127.6 L431.0 127.9 L434.1 128.7 L437.4 129.7 L441.6 130.9 L444.8 132.6 L447.2 134.7Z" fill="#f3a0a6"/>
<path d="M435.6 137.0 L435.3 138.7 L434.9 140.4 L434.6 142.0 L434.3 143.6 L433.9 145.3 L433.2 146.8 L432.4 148.3 L431.7 149.8 L431.0 151.3 L430.3 152.8 L428.4 153.5 L425.7 153.5 L423.4 153.5 L421.3 153.5 L419.5 153.5 L417.9 153.5 L416.4 153.5 L415.0 153.5 L413.7 153.5 L412.5 153.5 L411.4 153.5 L410.3 153.5 L409.3 153.5 L408.4 153.5 L407.4 153.5 L406.5 153.5 L405.6 153.5 L404.7 153.5 L403.9 153.5 L403.0 153.5 L402.1 153.5 L401.3 153.5 L400.4 153.5 L399.5 153.5 L398.6 153.5 L397.6 153.5 L396.7 153.5 L395.7 153.5 L394.6 153.5 L393.5 153.5 L392.3 153.5 L391.0 153.5 L389.6 153.5 L388.1 153.5 L386.5 153.5 L384.7 153.5 L382.6 153.5 L380.3 153.5 L377.6 153.5 L374.8 153.3 L373.8 151.9 L372.7 150.5 L371.6 149.1 L370.4 147.6 L369.8 145.9 L369.4 144.1 L369.1 142.4 L368.7 140.6 L368.4 138.8 L368.0 137.0 L368.9 135.2 L369.7 133.5 L370.6 131.9 L371.4 130.3 L372.5 128.8 L375.4 128.0 L377.8 127.3 L379.9 126.7 L381.7 126.2 L383.4 125.7 L385.3 125.5 L387.2 125.6 L388.9 125.6 L390.3 125.6 L391.6 125.6 L392.8 125.6 L393.8 125.7 L394.8 125.7 L395.7 125.7 L396.5 125.7 L397.3 125.7 L398.0 125.7 L398.7 125.7 L399.3 125.8 L400.0 125.8 L400.6 125.8 L401.2 125.8 L401.8 125.8 L402.4 125.8 L403.0 125.8 L403.6 125.8 L404.2 125.8 L404.8 125.8 L405.4 125.9 L406.0 125.9 L406.6 125.9 L407.3 125.9 L407.9 125.9 L408.7 125.9 L409.4 125.9 L410.2 125.9 L411.0 126.0 L411.9 126.0 L412.9 126.0 L414.0 126.0 L415.0 126.2 L416.2 126.3 L417.4 126.5 L418.8 126.7 L420.3 127.0 L422.1 127.3 L424.1 127.6 L426.5 128.0 L429.4 128.4 L430.9 129.5 L432.1 130.8 L433.4 132.2 L434.8 133.7 L435.9 135.3Z" fill="#ee8087"/>
<path d="M426.1 137.0 L425.9 138.2 L425.7 139.4 L425.5 140.6 L425.2 141.7 L425.0 142.9 L424.4 144.0 L423.5 144.9 L422.7 145.8 L422.0 146.7 L421.2 147.5 L419.9 148.0 L418.3 148.1 L416.8 148.2 L415.5 148.2 L414.2 148.2 L413.1 148.2 L412.1 148.2 L411.2 148.2 L410.3 148.2 L409.5 148.2 L408.7 148.2 L408.0 148.2 L407.3 148.2 L406.7 148.2 L406.0 148.2 L405.4 148.2 L404.8 148.2 L404.2 148.2 L403.6 148.2 L403.0 148.2 L402.4 148.2 L401.8 148.2 L401.2 148.2 L400.6 148.2 L400.0 148.2 L399.3 148.2 L398.7 148.2 L398.0 148.2 L397.3 148.2 L396.5 148.2 L395.7 148.2 L394.8 148.2 L393.9 148.2 L392.9 148.2 L391.8 148.2 L390.5 148.2 L389.1 148.2 L387.5 148.2 L385.7 148.2 L383.7 148.1 L382.8 147.3 L382.0 146.3 L381.3 145.3 L380.5 144.3 L379.9 143.2 L379.5 142.0 L379.1 140.8 L378.9 139.5 L378.8 138.3 L378.6 137.0 L379.1 135.7 L379.6 134.5 L380.1 133.4 L380.5 132.2 L381.2 131.2 L382.6 130.4 L383.9 129.7 L385.6 129.2 L387.1 128.9 L388.4 128.6 L389.8 128.4 L391.1 128.4 L392.3 128.3 L393.4 128.3 L394.3 128.3 L395.2 128.4 L396.0 128.4 L396.8 128.4 L397.4 128.4 L398.1 128.5 L398.7 128.5 L399.2 128.5 L399.7 128.5 L400.2 128.5 L400.7 128.5 L401.2 128.5 L401.7 128.6 L402.1 128.6 L402.6 128.6 L403.0 128.6 L403.4 128.6 L403.9 128.6 L404.3 128.6 L404.8 128.7 L405.2 128.7 L405.7 128.7 L406.2 128.7 L406.7 128.7 L407.2 128.7 L407.8 128.7 L408.4 128.8 L409.0 128.8 L409.6 128.8 L410.4 128.8 L411.2 128.8 L412.0 128.9 L412.8 129.0 L413.8 129.2 L414.9 129.3 L416.1 129.4 L417.5 129.6 L419.1 129.8 L420.6 130.3 L422.3 130.7 L423.3 131.6 L424.2 132.5 L425.1 133.5 L425.8 134.6 L426.4 135.8Z" fill="#e95f66"/>
<path d="M416.7 137.0 L416.5 137.7 L416.4 138.4 L416.3 139.1 L416.2 139.8 L416.1 140.5 L415.7 141.1 L414.6 141.5 L413.7 141.8 L412.9 142.0 L412.2 142.3 L411.5 142.5 L410.9 142.7 L410.3 142.9 L409.7 143.0 L409.0 143.0 L408.4 143.0 L407.9 143.0 L407.4 143.0 L406.9 143.0 L406.5 143.0 L406.1 143.0 L405.7 143.0 L405.3 143.0 L404.9 143.0 L404.6 143.0 L404.3 143.0 L404.0 143.0 L403.6 143.0 L403.3 143.0 L403.0 143.0 L402.7 143.0 L402.4 143.0 L402.0 143.0 L401.7 143.0 L401.4 143.0 L401.1 143.0 L400.7 143.0 L400.3 143.0 L399.9 143.0 L399.5 143.0 L399.1 143.0 L398.6 143.0 L398.1 143.0 L397.6 143.0 L397.0 143.0 L396.3 143.0 L395.6 143.0 L394.7 143.0 L393.8 143.0 L392.6 143.0 L391.8 142.7 L391.4 142.2 L391.0 141.6 L390.5 141.0 L390.1 140.5 L389.6 139.8 L389.1 139.2 L389.1 138.5 L389.2 137.7 L389.3 137.0 L389.4 136.3 L389.5 135.6 L389.6 134.9 L389.7 134.2 L389.8 133.5 L389.9 132.7 L390.0 132.0 L391.3 131.8 L392.4 131.6 L393.4 131.4 L394.2 131.3 L395.0 131.2 L395.7 131.1 L396.4 131.0 L397.1 131.1 L397.7 131.1 L398.2 131.1 L398.8 131.2 L399.2 131.2 L399.7 131.2 L400.1 131.2 L400.4 131.2 L400.8 131.3 L401.1 131.3 L401.5 131.3 L401.8 131.3 L402.1 131.3 L402.4 131.4 L402.7 131.4 L403.0 131.4 L403.3 131.4 L403.6 131.4 L403.9 131.4 L404.2 131.5 L404.5 131.5 L404.8 131.5 L405.1 131.5 L405.4 131.5 L405.8 131.5 L406.1 131.6 L406.5 131.6 L406.9 131.6 L407.3 131.6 L407.8 131.7 L408.3 131.7 L408.9 131.7 L409.5 131.7 L410.2 131.8 L411.0 131.8 L411.9 131.9 L412.9 131.9 L414.1 132.1 L414.6 132.6 L415.1 133.1 L415.6 133.6 L416.2 134.2 L416.8 134.8 L416.9 135.5 L416.8 136.3Z" fill="#e53e44"/>
<path d="M402.9 121.6 L415.5 120.2 L430.2 118.1 L447.0 115.4 L459.6 112.2 L472.2 109.7 L489.0 108.0 L489.0 130.0 L472.2 129.0 L453.3 128.0 L436.5 125.8 L415.5 123.8Z" fill="#e4e5f4"/>
<path d="M470.0 128.0 L489.0 128.0 L489.0 154.0 L470.0 154.0 L468.0 140.0Z" fill="#e4e5f4"/>
<path d="M430.2 120.6 L447.0 118.9 L468.0 118.5 L486.9 118.9 L486.9 125.8 L468.0 126.9 L447.0 126.9 L434.4 124.8Z" fill="#c2c3e6"/>
<path d="M335.6 51.2 L355.1 51.2 L355.1 60.3 L335.6 60.3Z" fill="url(#stip)"/>
<path d="M279.6 60.6 L298.6 60.6 L298.6 129.2 L279.6 129.2Z" fill="url(#stip)"/>
<path d="M298.6 70.0 L316.8 70.0 L316.8 92.4 L298.6 92.4Z" fill="url(#stip)"/>
<path d="M315.8 90.8 L338.2 90.8 L338.2 114.8 L315.8 114.8Z" fill="url(#stip)"/>
<path d="M336.6 113.2 L359.0 113.2 L359.0 122.8 L336.6 122.8Z" fill="url(#stip)"/>
<path d="M298.0 129.2 L317.4 129.2 L317.4 131.6 L298.0 131.6Z" fill="url(#stip)"/>
<path d="M448.4 22.2 L470.2 22.2 L470.2 26.5 L448.4 26.5Z" fill="url(#stip)"/>
<path d="M448.4 32.0 L470.2 32.0 L470.2 44.0 L448.4 44.0Z" fill="url(#stip)"/>
<path d="M470.2 46.0 L488.0 46.0 L488.0 110.5 L470.2 110.5Z" fill="url(#stip)"/>
<path d="M431.0 118.0 L448.0 118.0 L448.0 120.3 L431.0 120.3Z" fill="url(#stip)"/>
<path d="M448.4 125.8 L470.2 125.8 L470.2 129.0 L448.4 129.0Z" fill="url(#stip)"/>
<path d="M470.0 129.0 L488.0 129.0 L488.0 131.0 L470.0 131.0Z" fill="url(#stip)"/>
<path d="M470.2 135.6 L488.0 135.6 L488.0 144.3 L470.2 144.3Z" fill="url(#stip)"/>
<path d="M354.6 102.0 L375.6 102.0 L375.6 110.3 L354.6 110.3Z" fill="url(#stip)"/>
</g>
<rect x="279.6" y="20.7" width="208.3" height="132.3" fill="none" stroke="#333" stroke-width="1.1"/>
<path d="M279.6 33.10h3 M279.6 45.14h1.8 M279.6 52.18h1.8 M279.6 57.18h1.8 M279.6 61.06h1.8 M279.6 64.23h1.8 M279.6 66.90h1.8 M279.6 69.22h1.8 M279.6 71.27h1.8 M279.6 73.10h3 M279.6 85.14h1.8 M279.6 92.18h1.8 M279.6 97.18h1.8 M279.6 101.06h1.8 M279.6 104.23h1.8 M279.6 106.90h1.8 M279.6 109.22h1.8 M279.6 111.27h1.8 M279.6 113.10h3 M279.6 125.14h1.8 M279.6 132.18h1.8 M279.6 137.18h1.8 M279.6 141.06h1.8 M279.6 144.23h1.8 M279.6 146.90h1.8 M279.6 149.22h1.8 M279.6 151.27h1.8 M279.6 153.10h3 M279.6 21.06h1.8 M279.6 24.23h1.8 M279.6 26.90h1.8 M279.6 29.22h1.8 M279.6 31.27h1.8 M298.54 153.0v-3 M317.47 153.0v-3 M336.41 153.0v-3 M355.35 153.0v-3 M374.28 153.0v-3 M393.22 153.0v-3 M412.15 153.0v-3 M431.09 153.0v-3 M450.03 153.0v-3 M468.96 153.0v-3" stroke="#333" stroke-width="0.9" fill="none"/>
<text x="272.40000000000003" y="37.7" font-family="Liberation Sans, sans-serif" font-size="10.8" text-anchor="end" fill="#231f20">10</text>
<text x="272.70000000000005" y="33.6" font-family="Liberation Sans, sans-serif" font-size="7" fill="#231f20">0</text>
<text x="272.40000000000003" y="77.7" font-family="Liberation Sans, sans-serif" font-size="10.8" text-anchor="end" fill="#231f20">10</text>
<text x="272.70000000000005" y="73.6" font-family="Liberation Sans, sans-serif" font-size="7" fill="#231f20">1</text>
<text x="272.40000000000003" y="117.7" font-family="Liberation Sans, sans-serif" font-size="10.8" text-anchor="end" fill="#231f20">10</text>
<text x="272.70000000000005" y="113.6" font-family="Liberation Sans, sans-serif" font-size="7" fill="#231f20">2</text>
<text x="272.40000000000003" y="157.7" font-family="Liberation Sans, sans-serif" font-size="10.8" text-anchor="end" fill="#231f20">10</text>
<text x="272.70000000000005" y="153.6" font-family="Liberation Sans, sans-serif" font-size="7" fill="#231f20">3</text>
<text x="279.6" y="164.0" font-family="Liberation Sans, sans-serif" font-size="9.6" text-anchor="middle" fill="#231f20">J</text>
<text x="298.5" y="164.0" font-family="Liberation Sans, sans-serif" font-size="9.6" text-anchor="middle" fill="#231f20">F</text>
<text x="317.5" y="164.0" font-family="Liberation Sans, sans-serif" font-size="9.6" text-anchor="middle" fill="#231f20">M</text>
<text x="336.4" y="164.0" font-family="Liberation Sans, sans-serif" font-size="9.6" text-anchor="middle" fill="#231f20">A</text>
<text x="355.3" y="164.0" font-family="Liberation Sans, sans-serif" font-size="9.6" text-anchor="middle" fill="#231f20">M</text>
<text x="374.3" y="164.0" font-family="Liberation Sans, sans-serif" font-size="9.6" text-anchor="middle" fill="#231f20">J</text>
<text x="393.2" y="164.0" font-family="Liberation Sans, sans-serif" font-size="9.6" text-anchor="middle" fill="#231f20">J</text>
<text x="412.2" y="164.0" font-family="Liberation Sans, sans-serif" font-size="9.6" text-anchor="middle" fill="#231f20">A</text>
<text x="431.1" y="164.0" font-family="Liberation Sans, sans-serif" font-size="9.6" text-anchor="middle" fill="#231f20">S</text>
<text x="450.0" y="164.0" font-family="Liberation Sans, sans-serif" font-size="9.6" text-anchor="middle" fill="#231f20">O</text>
<text x="469.0" y="164.0" font-family="Liberation Sans, sans-serif" font-size="9.6" text-anchor="middle" fill="#231f20">N</text>
<text x="487.9" y="164.0" font-family="Liberation Sans, sans-serif" font-size="9.6" text-anchor="middle" fill="#231f20">D</text>
<text x="281.0" y="14.6" font-family="Liberation Sans, sans-serif" font-size="11" fill="#231f20" textLength="141.8" lengthAdjust="spacingAndGlyphs">(b) Last interglacial (127 ka)</text>
<path d="M279.6 170.0 L288.8 166.5 L288.8 173.5 Z" fill="#2b4ba6"/>
<path d="M487.90000000000003 170.0 L479.20000000000005 166.5 L479.20000000000005 173.5 Z" fill="#e01e26"/>
<rect x="288.80" y="166.5" width="13.90" height="7.0" fill="#2b4ba6"/>
<rect x="302.40" y="166.5" width="13.90" height="7.0" fill="#3b55b0"/>
<rect x="316.00" y="166.5" width="13.90" height="7.0" fill="#5261b8"/>
<rect x="329.60" y="166.5" width="13.90" height="7.0" fill="#7479c3"/>
<rect x="343.20" y="166.5" width="13.90" height="7.0" fill="#9a9dd5"/>
<rect x="356.80" y="166.5" width="13.90" height="7.0" fill="#c2c3e6"/>
<rect x="370.40" y="166.5" width="13.90" height="7.0" fill="#e4e5f4"/>
<rect x="384.00" y="166.5" width="13.90" height="7.0" fill="#fde6e7"/>
<rect x="397.60" y="166.5" width="13.90" height="7.0" fill="#f8c1c5"/>
<rect x="411.20" y="166.5" width="13.90" height="7.0" fill="#f3a0a6"/>
<rect x="424.80" y="166.5" width="13.90" height="7.0" fill="#ee8087"/>
<rect x="438.40" y="166.5" width="13.90" height="7.0" fill="#e95f66"/>
<rect x="452.00" y="166.5" width="13.90" height="7.0" fill="#e53e44"/>
<rect x="465.60" y="166.5" width="13.90" height="7.0" fill="#e01e26"/>
<path d="M279.6 170.0 L288.8 166.5 L479.20000000000005 166.5 L487.90000000000003 170.0 L479.20000000000005 173.5 L288.8 173.5 Z" fill="none" stroke="#333" stroke-width="0.9"/>
<path d="M302.40 173.5v-2 M329.60 173.5v-2 M356.80 173.5v-2 M384.00 173.5v-2 M411.20 173.5v-2 M438.40 173.5v-2 M465.60 173.5v-2" stroke="#333" stroke-width="0.8"/>
<text x="302.4" y="184.1" font-family="Liberation Sans, sans-serif" font-size="10" text-anchor="middle" fill="#231f20">−6</text>
<text x="329.6" y="184.1" font-family="Liberation Sans, sans-serif" font-size="10" text-anchor="middle" fill="#231f20">−4</text>
<text x="356.8" y="184.1" font-family="Liberation Sans, sans-serif" font-size="10" text-anchor="middle" fill="#231f20">−2</text>
<text x="384.0" y="184.1" font-family="Liberation Sans, sans-serif" font-size="10" text-anchor="middle" fill="#231f20">0</text>
<text x="411.2" y="184.1" font-family="Liberation Sans, sans-serif" font-size="10" text-anchor="middle" fill="#231f20">2</text>
<text x="438.4" y="184.1" font-family="Liberation Sans, sans-serif" font-size="10" text-anchor="middle" fill="#231f20">4</text>
<text x="465.6" y="184.1" font-family="Liberation Sans, sans-serif" font-size="10" text-anchor="middle" fill="#231f20">6</text>
<text x="312.40000000000003" y="196.6" font-family="Liberation Sans, sans-serif" font-size="12.4" fill="#231f20" textLength="145" lengthAdjust="spacingAndGlyphs">Air temperature anomaly (K)</text>
<g clip-path="url(#clipc)">
<rect x="39.6" y="222.6" width="208.3" height="132.3" fill="#e5e5f4"/>
<path d="M39.6 222.6 L105.0 222.6 L104.0 230.0 L108.0 240.0 L115.0 248.0 L125.0 255.0 L131.0 262.0 L131.0 273.0 L115.0 276.0 L100.0 276.5 L91.5 277.0 L84.0 285.0 L81.0 291.0 L83.0 305.7 L90.0 313.0 L95.7 318.3 L112.5 324.6 L127.2 326.7 L144.0 328.0 L161.8 331.2 L183.6 334.5 L198.9 338.9 L203.2 345.4 L198.9 349.8 L183.6 350.9 L172.7 356.0 L39.6 356.0Z" fill="#fde6e7"/>
<path d="M39.6 250.0 L42.0 253.0 L43.8 255.0 L49.8 259.8 L54.6 267.0 L58.2 276.6 L58.8 281.4 L55.8 286.2 L54.6 291.0 L57.0 295.8 L58.8 303.0 L58.8 310.2 L55.0 312.0 L39.6 312.0Z" fill="#e5e5f4"/>
<path d="M39.6 264.6 L43.0 264.6 L45.0 270.0 L45.5 278.0 L44.0 283.8 L39.6 284.0Z" fill="#c6c7e7"/>
<path d="M39.6 337.2 L51.6 339.3 L60.0 343.5 L70.5 349.8 L74.7 356.0 L39.6 356.0Z" fill="#e5e5f4"/>
<path d="M230.0 222.6 L249.0 222.6 L249.0 232.7 L240.0 229.0 L234.0 225.0Z" fill="#fde6e7"/>
<path d="M190.1 312.7 L205.4 311.6 L227.2 312.3 L249.0 312.7 L249.0 325.8 L233.7 322.5 L205.4 320.3 L190.1 318.2Z" fill="#fde6e7"/>
<path d="M43.0 230.0 L51.0 225.0 L87.0 224.0 L97.0 232.0 L107.0 242.0 L117.0 252.0 L121.0 262.0 L119.0 267.0 L105.0 268.0 L89.0 266.0 L69.0 262.0 L55.0 256.0 L45.0 248.0 L41.0 238.0Z" fill="#f9c4c8"/>
<path d="M47.0 234.0 L57.0 229.0 L75.0 231.0 L89.0 240.0 L103.0 248.0 L111.0 256.0 L113.0 262.0 L103.0 265.0 L89.0 262.0 L71.0 256.0 L57.0 250.0 L47.0 242.0Z" fill="#f4a3a9"/>
<path d="M57.0 235.0 L75.0 237.0 L91.0 246.0 L105.0 254.0 L107.0 260.0 L99.0 262.0 L87.0 259.0 L73.0 254.0 L61.0 248.0 L55.0 242.0Z" fill="#ef8389"/>
<path d="M63.0 241.0 L75.0 240.0 L87.0 248.0 L97.0 253.0 L99.0 256.0 L89.0 256.0 L77.0 252.0 L67.0 247.0Z" fill="#eb646b"/>
<path d="M74.0 246.0 L78.0 242.0 L80.0 247.0 L77.0 250.0Z" fill="#e8494f"/>
<path d="M115.0 241.0 L126.0 234.0 L147.0 227.4 L182.0 224.7 L209.0 224.7 L228.0 226.0 L238.0 231.4 L246.0 240.8 L249.0 249.0 L249.0 300.7 L236.0 303.0 L227.2 302.9 L205.4 305.0 L183.6 304.0 L161.8 300.7 L140.0 297.4 L135.0 295.0 L122.0 293.0 L124.0 290.0 L146.0 289.5 L157.0 288.0 L150.0 284.0 L140.0 282.0 L138.0 279.0 L150.0 277.5 L165.0 276.6 L168.0 273.0 L160.0 270.3 L145.0 269.0 L131.0 268.0 L131.0 262.0 L125.0 255.0 L116.0 250.0Z" fill="#c6c7e7"/>
<path d="M123.0 293.0 L135.0 290.0 L144.0 291.0 L144.0 299.0 L130.0 299.0Z" fill="#c6c7e7"/>
<path d="M129.0 318.0 L135.0 317.5 L140.0 318.5 L138.0 321.0 L130.0 321.0Z" fill="#c6c7e7"/>
<path d="M140.0 243.0 L150.0 236.0 L165.0 231.5 L196.5 229.4 L228.0 231.5 L240.6 238.8 L246.9 249.3 L248.0 264.0 L244.6 288.7 L233.7 293.1 L222.8 298.5 L205.4 301.8 L183.6 299.6 L170.0 296.0 L176.0 291.0 L183.9 289.0 L175.5 285.0 L179.7 278.7 L165.0 275.6 L173.4 272.4 L179.7 267.1 L169.2 264.0 L156.6 261.9 L144.0 255.6Z" fill="#a6a9d9"/>
<path d="M144.0 245.1 L156.6 238.8 L175.5 235.7 L196.5 235.7 L211.2 238.8 L232.2 242.0 L240.6 247.2 L242.7 257.7 L238.5 264.0 L223.8 270.3 L219.6 276.6 L220.7 290.9 L212.0 296.4 L205.4 297.4 L194.5 294.2 L190.2 289.0 L192.3 278.7 L200.7 270.3 L198.6 264.0 L186.0 260.8 L165.0 259.8 L150.3 255.6Z" fill="#888cca"/>
<path d="M149.9 247.4 L158.0 242.9 L172.4 241.1 L190.4 240.6 L199.4 242.9 L204.8 246.5 L199.4 251.0 L188.6 252.8 L170.6 253.7 L156.2 251.9Z" fill="#6a72be"/>
<path d="M214.2 248.8 L224.0 245.5 L230.2 244.8 L232.9 251.5 L230.2 258.2 L216.8 254.2Z" fill="#6a72be"/>
<path d="M96.7 222.6 L115.6 222.6 L115.6 227.3 L96.7 227.3Z" fill="url(#stip)"/>
<path d="M42.2 234.6 L59.0 234.6 L59.0 253.5 L42.2 253.5Z" fill="url(#stip)"/>
<path d="M59.0 253.5 L77.8 253.5 L77.8 266.0 L59.0 266.0Z" fill="url(#stip)"/>
<path d="M59.0 266.0 L116.7 266.0 L116.7 289.0 L59.0 289.0Z" fill="url(#stip)"/>
<path d="M116.7 271.3 L144.0 271.3 L144.0 289.0 L116.7 289.0Z" fill="url(#stip)"/>
<path d="M133.5 267.0 L144.0 267.0 L144.0 271.3 L133.5 271.3Z" fill="url(#stip)"/>
<path d="M115.6 247.2 L136.6 247.2 L136.6 252.5 L115.6 252.5Z" fill="url(#stip)"/>
<path d="M134.5 257.7 L144.0 257.7 L144.0 262.0 L134.5 262.0Z" fill="url(#stip)"/>
<path d="M59.0 289.0 L115.6 289.0 L115.6 310.0 L59.0 310.0Z" fill="url(#stip)"/>
<path d="M96.7 310.0 L115.6 310.0 L115.6 323.6 L96.7 323.6Z" fill="url(#stip)"/>
<path d="M39.6 309.0 L59.0 309.0 L59.0 333.0 L39.6 333.0Z" fill="url(#stip)"/>
<path d="M59.0 338.3 L77.8 338.3 L77.8 347.8 L59.0 347.8Z" fill="url(#stip)"/>
<path d="M115.6 323.6 L144.0 323.6 L144.0 326.8 L115.6 326.8Z" fill="url(#stip)"/>
<path d="M77.8 351.0 L96.7 351.0 L96.7 355.0 L77.8 355.0Z" fill="url(#stip)"/>
<path d="M144.0 253.5 L152.4 253.5 L152.4 262.0 L144.0 262.0Z" fill="url(#stip)"/>
<path d="M144.0 268.2 L152.4 268.2 L152.4 273.4 L144.0 273.4Z" fill="url(#stip)"/>
<path d="M144.0 281.8 L152.4 281.8 L152.4 285.0 L144.0 285.0Z" fill="url(#stip)"/>
<path d="M190.0 310.0 L249.0 310.0 L249.0 320.7 L190.0 320.7Z" fill="url(#stip)"/>
<path d="M152.0 327.0 L173.4 327.0 L173.4 330.0 L152.0 330.0Z" fill="url(#stip)"/>
<path d="M171.3 348.0 L198.6 348.0 L198.6 355.0 L171.3 355.0Z" fill="url(#stip)"/>
<path d="M140.0 282.0 L153.0 282.0 L153.0 285.5 L140.0 285.5Z" fill="url(#stip)"/>
<path d="M140.0 323.6 L172.7 323.6 L172.7 331.2 L140.0 331.2Z" fill="url(#stip)"/>
</g>
<rect x="39.6" y="222.6" width="208.3" height="132.3" fill="none" stroke="#333" stroke-width="1.1"/>
<path d="M39.6 235.00h3 M39.6 247.04h1.8 M39.6 254.08h1.8 M39.6 259.08h1.8 M39.6 262.96h1.8 M39.6 266.13h1.8 M39.6 268.80h1.8 M39.6 271.12h1.8 M39.6 273.17h1.8 M39.6 275.00h3 M39.6 287.04h1.8 M39.6 294.08h1.8 M39.6 299.08h1.8 M39.6 302.96h1.8 M39.6 306.13h1.8 M39.6 308.80h1.8 M39.6 311.12h1.8 M39.6 313.17h1.8 M39.6 315.00h3 M39.6 327.04h1.8 M39.6 334.08h1.8 M39.6 339.08h1.8 M39.6 342.96h1.8 M39.6 346.13h1.8 M39.6 348.80h1.8 M39.6 351.12h1.8 M39.6 353.17h1.8 M39.6 355.00h3 M39.6 222.96h1.8 M39.6 226.13h1.8 M39.6 228.80h1.8 M39.6 231.12h1.8 M39.6 233.17h1.8 M58.54 354.9v-3 M77.47 354.9v-3 M96.41 354.9v-3 M115.35 354.9v-3 M134.28 354.9v-3 M153.22 354.9v-3 M172.15 354.9v-3 M191.09 354.9v-3 M210.03 354.9v-3 M228.96 354.9v-3" stroke="#333" stroke-width="0.9" fill="none"/>
<text x="32.4" y="239.6" font-family="Liberation Sans, sans-serif" font-size="10.8" text-anchor="end" fill="#231f20">10</text>
<text x="32.7" y="235.5" font-family="Liberation Sans, sans-serif" font-size="7" fill="#231f20">0</text>
<text x="32.4" y="279.6" font-family="Liberation Sans, sans-serif" font-size="10.8" text-anchor="end" fill="#231f20">10</text>
<text x="32.7" y="275.5" font-family="Liberation Sans, sans-serif" font-size="7" fill="#231f20">1</text>
<text x="32.4" y="319.6" font-family="Liberation Sans, sans-serif" font-size="10.8" text-anchor="end" fill="#231f20">10</text>
<text x="32.7" y="315.5" font-family="Liberation Sans, sans-serif" font-size="7" fill="#231f20">2</text>
<text x="32.4" y="359.6" font-family="Liberation Sans, sans-serif" font-size="10.8" text-anchor="end" fill="#231f20">10</text>
<text x="32.7" y="355.5" font-family="Liberation Sans, sans-serif" font-size="7" fill="#231f20">3</text>
<text x="39.6" y="365.9" font-family="Liberation Sans, sans-serif" font-size="9.6" text-anchor="middle" fill="#231f20">J</text>
<text x="58.5" y="365.9" font-family="Liberation Sans, sans-serif" font-size="9.6" text-anchor="middle" fill="#231f20">F</text>
<text x="77.5" y="365.9" font-family="Liberation Sans, sans-serif" font-size="9.6" text-anchor="middle" fill="#231f20">M</text>
<text x="96.4" y="365.9" font-family="Liberation Sans, sans-serif" font-size="9.6" text-anchor="middle" fill="#231f20">A</text>
<text x="115.3" y="365.9" font-family="Liberation Sans, sans-serif" font-size="9.6" text-anchor="middle" fill="#231f20">M</text>
<text x="134.3" y="365.9" font-family="Liberation Sans, sans-serif" font-size="9.6" text-anchor="middle" fill="#231f20">J</text>
<text x="153.2" y="365.9" font-family="Liberation Sans, sans-serif" font-size="9.6" text-anchor="middle" fill="#231f20">J</text>
<text x="172.2" y="365.9" font-family="Liberation Sans, sans-serif" font-size="9.6" text-anchor="middle" fill="#231f20">A</text>
<text x="191.1" y="365.9" font-family="Liberation Sans, sans-serif" font-size="9.6" text-anchor="middle" fill="#231f20">S</text>
<text x="210.0" y="365.9" font-family="Liberation Sans, sans-serif" font-size="9.6" text-anchor="middle" fill="#231f20">O</text>
<text x="229.0" y="365.9" font-family="Liberation Sans, sans-serif" font-size="9.6" text-anchor="middle" fill="#231f20">N</text>
<text x="247.9" y="365.9" font-family="Liberation Sans, sans-serif" font-size="9.6" text-anchor="middle" fill="#231f20">D</text>
<text x="41.0" y="216.0" font-family="Liberation Sans, sans-serif" font-size="11" fill="#231f20" textLength="121" lengthAdjust="spacingAndGlyphs">(c) mid Holocene (6 ka)</text>
<path d="M39.6 371.9 L48.8 368.4 L48.8 375.4 Z" fill="#2b49a5"/>
<path d="M247.9 371.9 L239.2 368.4 L239.2 375.4 Z" fill="#e21e25"/>
<rect x="48.80" y="368.4" width="12.20" height="7.0" fill="#2b49a5"/>
<rect x="60.70" y="368.4" width="12.20" height="7.0" fill="#3c54ae"/>
<rect x="72.60" y="368.4" width="12.20" height="7.0" fill="#5061b6"/>
<rect x="84.50" y="368.4" width="12.20" height="7.0" fill="#6a72be"/>
<rect x="96.40" y="368.4" width="12.20" height="7.0" fill="#888cca"/>
<rect x="108.30" y="368.4" width="12.20" height="7.0" fill="#a6a9d9"/>
<rect x="120.20" y="368.4" width="12.20" height="7.0" fill="#c6c7e7"/>
<rect x="132.10" y="368.4" width="12.20" height="7.0" fill="#e5e5f4"/>
<rect x="144.00" y="368.4" width="12.20" height="7.0" fill="#fde6e7"/>
<rect x="155.90" y="368.4" width="12.20" height="7.0" fill="#f9c4c8"/>
<rect x="167.80" y="368.4" width="12.20" height="7.0" fill="#f4a3a9"/>
<rect x="179.70" y="368.4" width="12.20" height="7.0" fill="#ef8389"/>
<rect x="191.60" y="368.4" width="12.20" height="7.0" fill="#eb646b"/>
<rect x="203.50" y="368.4" width="12.20" height="7.0" fill="#e8494f"/>
<rect x="215.40" y="368.4" width="12.20" height="7.0" fill="#e5333a"/>
<rect x="227.30" y="368.4" width="12.20" height="7.0" fill="#e21e25"/>
<path d="M39.6 371.9 L48.8 368.4 L239.2 368.4 L247.9 371.9 L239.2 375.4 L48.8 375.4 Z" fill="none" stroke="#333" stroke-width="0.9"/>
<path d="M72.60 375.4v-2 M96.40 375.4v-2 M120.20 375.4v-2 M144.00 375.4v-2 M167.80 375.4v-2 M191.60 375.4v-2 M215.40 375.4v-2" stroke="#333" stroke-width="0.8"/>
<text x="48.8" y="386.0" font-family="Liberation Sans, sans-serif" font-size="10.2" text-anchor="middle" fill="#231f20">−0.4</text>
<text x="72.6" y="386.0" font-family="Liberation Sans, sans-serif" font-size="10.2" text-anchor="middle" fill="#231f20">−0.3</text>
<text x="96.4" y="386.0" font-family="Liberation Sans, sans-serif" font-size="10.2" text-anchor="middle" fill="#231f20">−0.2</text>
<text x="120.2" y="386.0" font-family="Liberation Sans, sans-serif" font-size="10.2" text-anchor="middle" fill="#231f20">−0.1</text>
<text x="144.0" y="386.0" font-family="Liberation Sans, sans-serif" font-size="10.2" text-anchor="middle" fill="#231f20">0.0</text>
<text x="167.8" y="386.0" font-family="Liberation Sans, sans-serif" font-size="10.2" text-anchor="middle" fill="#231f20">0.1</text>
<text x="191.6" y="386.0" font-family="Liberation Sans, sans-serif" font-size="10.2" text-anchor="middle" fill="#231f20">0.2</text>
<text x="215.4" y="386.0" font-family="Liberation Sans, sans-serif" font-size="10.2" text-anchor="middle" fill="#231f20">0.3</text>
<text x="239.2" y="386.0" font-family="Liberation Sans, sans-serif" font-size="10.2" text-anchor="middle" fill="#231f20">0.4</text>
<text x="33.0" y="399.4" font-family="Liberation Sans, sans-serif" font-size="12" fill="#231f20" textLength="222.8" lengthAdjust="spacingAndGlyphs">O<tspan font-size="8" dy="3">3</tspan><tspan dy="-3"> mixing ratio anomaly (60–90˚N) (ppmv)</tspan></text>
<g clip-path="url(#clipd)">
<rect x="279.6" y="222.6" width="208.3" height="132.3" fill="#e5e5f4"/>
<path d="M345.0 262.0 L360.0 262.0 L374.0 263.8 L396.0 264.9 L418.0 261.6 L433.4 257.2 L437.0 250.0 L440.0 245.0 L445.0 250.0 L447.0 264.0 L453.3 276.6 L457.5 286.3 L461.7 296.8 L457.5 305.2 L436.5 307.3 L405.0 303.1 L384.0 301.0 L370.0 296.0 L360.0 290.0 L352.0 284.0 L345.0 276.0 L340.0 268.0Z" fill="#c6c7e7"/>
<path d="M384.0 311.5 L405.0 317.8 L426.0 322.0 L436.5 324.1 L426.0 325.1 L405.0 325.1 L384.0 324.1 L360.0 322.0 L345.0 318.0 L342.0 313.0 L350.0 310.5 L365.0 310.5Z" fill="#c6c7e7"/>
<path d="M413.4 278.0 L420.0 273.0 L432.0 272.4 L445.0 278.0 L453.3 287.0 L453.3 292.6 L449.1 298.9 L436.5 300.0 L423.9 296.8 L415.5 288.4Z" fill="#a6a9d9"/>
<path d="M426.0 285.0 L430.0 283.0 L434.4 285.5 L432.0 289.5 L427.0 289.0Z" fill="#888cca"/>
<path d="M384.0 333.5 L405.0 333.5 L426.0 335.0 L440.7 337.7 L447.0 343.0 L444.9 347.2 L436.5 350.3 L405.0 351.4 L384.0 351.4 L300.0 352.0 L285.3 352.0 L285.3 342.0 L279.6 340.0 L279.6 328.0 L300.0 329.4 L321.0 328.3 L331.5 326.2 L345.0 330.0 L360.0 331.5 L384.0 332.0Z" fill="#fde6e7"/>
<path d="M455.4 315.7 L468.0 311.5 L489.0 310.4 L489.0 328.3 L480.6 324.1 L468.0 319.9Z" fill="#fde6e7"/>
<path d="M437.5 247.0 L436.3 250.0 L435.2 252.8 L434.1 255.6 L431.1 257.9 L426.0 259.3 L421.7 260.5 L418.0 261.6 L414.1 262.2 L410.8 262.7 L407.9 263.1 L405.4 263.5 L403.2 263.8 L401.2 264.1 L399.3 264.4 L397.7 264.7 L396.1 264.9 L394.4 264.8 L392.9 264.7 L391.5 264.7 L390.2 264.6 L388.9 264.5 L387.8 264.5 L386.7 264.4 L385.6 264.4 L384.6 264.3 L383.7 264.3 L382.7 264.2 L381.8 264.2 L380.9 264.1 L380.0 264.1 L379.1 264.1 L378.2 264.0 L377.3 264.0 L376.4 263.9 L375.5 263.9 L374.5 263.8 L373.6 263.7 L372.7 263.5 L371.7 263.2 L370.8 263.0 L369.8 262.7 L368.7 262.5 L367.7 262.2 L366.6 261.9 L365.4 261.6 L364.1 261.3 L362.7 261.0 L361.3 260.6 L359.7 260.2 L357.9 259.8 L356.0 259.2 L354.4 258.4 L352.6 257.5 L350.7 256.5 L348.5 255.4 L346.0 254.2 L343.2 252.8 L341.9 251.0 L340.4 249.1 L338.9 247.0 L337.2 244.8 L336.6 242.4 L336.6 240.1 L336.6 237.8 L336.6 235.4 L338.8 233.6 L341.1 232.1 L343.2 230.6 L345.1 229.2 L347.0 227.9 L349.6 227.3 L352.3 226.9 L354.8 226.6 L357.0 226.3 L359.1 226.1 L360.9 225.8 L362.7 225.6 L364.3 225.4 L365.9 225.2 L367.3 225.0 L368.7 224.9 L370.1 224.7 L371.4 224.5 L372.6 224.4 L373.9 224.2 L375.2 224.2 L376.4 224.2 L377.6 224.2 L378.8 224.2 L380.0 224.2 L381.2 224.2 L382.4 224.2 L383.6 224.2 L384.8 224.2 L386.1 224.2 L387.4 224.2 L388.8 224.2 L390.2 224.2 L391.6 224.2 L393.2 224.2 L394.8 224.2 L396.6 224.2 L398.5 224.2 L400.5 224.2 L402.8 224.2 L405.3 224.2 L408.2 224.2 L411.4 224.2 L414.6 224.5 L417.3 225.4 L420.3 226.4 L423.7 227.6 L427.1 228.9 L429.2 231.0 L431.4 233.2 L433.6 235.6 L434.7 238.3 L435.8 241.1 L436.9 244.0Z" fill="#c6c7e7"/>
<path d="M429.8 247.0 L428.7 249.6 L427.6 252.0 L426.6 254.4 L424.1 256.4 L419.8 257.7 L416.1 258.7 L412.9 259.6 L409.6 260.2 L406.8 260.7 L404.3 261.1 L402.2 261.4 L400.3 261.7 L398.5 262.0 L397.0 262.3 L395.5 262.5 L394.1 262.7 L392.6 262.6 L391.3 262.5 L390.1 262.5 L388.9 262.4 L387.8 262.4 L386.8 262.3 L385.9 262.3 L384.9 262.2 L384.1 262.2 L383.2 262.1 L382.4 262.1 L381.6 262.0 L380.8 262.0 L380.0 262.0 L379.2 261.9 L378.4 261.9 L377.7 261.8 L376.9 261.8 L376.0 261.8 L375.2 261.7 L374.4 261.6 L373.6 261.4 L372.8 261.2 L371.9 261.0 L371.0 260.8 L370.1 260.6 L369.2 260.4 L368.2 260.2 L367.1 259.9 L366.0 259.6 L364.7 259.4 L363.4 259.1 L362.0 258.7 L360.5 258.3 L358.9 257.8 L357.4 257.1 L355.9 256.3 L354.1 255.4 L352.2 254.4 L350.1 253.4 L347.6 252.1 L346.2 250.6 L344.9 248.8 L343.5 247.0 L342.1 245.0 L341.5 243.0 L341.5 240.9 L341.9 238.9 L342.3 236.9 L344.4 235.4 L346.4 234.1 L348.3 232.9 L350.0 231.7 L351.7 230.7 L353.9 230.1 L356.3 229.8 L358.4 229.5 L360.3 229.2 L362.0 229.0 L363.6 228.8 L365.1 228.6 L366.5 228.5 L367.9 228.3 L369.1 228.2 L370.3 228.0 L371.5 227.9 L372.6 227.8 L373.7 227.6 L374.8 227.5 L375.9 227.5 L376.9 227.5 L378.0 227.5 L379.0 227.5 L380.0 227.5 L381.0 227.5 L382.0 227.5 L383.1 227.5 L384.1 227.5 L385.2 227.5 L386.3 227.5 L387.5 227.5 L388.7 227.5 L389.9 227.5 L391.3 227.5 L392.7 227.5 L394.2 227.5 L395.8 227.5 L397.6 227.5 L399.5 227.5 L401.7 227.5 L404.1 227.5 L406.8 227.5 L409.6 227.8 L412.1 228.5 L414.7 229.3 L417.7 230.2 L420.6 231.4 L422.5 233.2 L424.5 235.1 L426.4 237.1 L427.5 239.5 L428.6 241.9 L429.5 244.4Z" fill="#a6a9d9"/>
<path d="M422.0 247.0 L421.0 249.2 L420.1 251.2 L419.1 253.2 L417.1 254.9 L413.6 256.0 L410.5 256.9 L407.9 257.7 L405.1 258.2 L402.8 258.6 L400.8 259.0 L399.0 259.3 L397.4 259.6 L395.9 259.9 L394.6 260.2 L393.3 260.3 L392.1 260.5 L390.9 260.4 L389.7 260.3 L388.6 260.3 L387.6 260.2 L386.7 260.2 L385.8 260.1 L385.0 260.1 L384.2 260.0 L383.5 260.0 L382.8 260.0 L382.0 259.9 L381.4 259.9 L380.7 259.9 L380.0 259.8 L379.3 259.8 L378.7 259.7 L378.0 259.7 L377.3 259.7 L376.6 259.6 L375.9 259.6 L375.2 259.5 L374.5 259.4 L373.8 259.2 L373.0 259.0 L372.3 258.9 L371.5 258.7 L370.7 258.5 L369.8 258.4 L368.8 258.2 L367.8 258.0 L366.7 257.7 L365.6 257.5 L364.3 257.2 L363.1 256.8 L361.7 256.3 L360.4 255.7 L359.1 255.0 L357.6 254.3 L355.9 253.4 L354.1 252.5 L351.9 251.4 L350.6 250.1 L349.3 248.6 L348.2 247.0 L347.0 245.3 L346.5 243.5 L346.3 241.7 L347.2 240.0 L347.9 238.4 L349.9 237.2 L351.7 236.1 L353.4 235.2 L355.0 234.2 L356.4 233.4 L358.3 232.9 L360.2 232.6 L361.9 232.4 L363.5 232.2 L364.9 231.9 L366.3 231.8 L367.6 231.6 L368.8 231.5 L369.9 231.4 L370.9 231.3 L371.9 231.2 L372.9 231.1 L373.9 231.0 L374.8 230.9 L375.7 230.8 L376.6 230.8 L377.4 230.8 L378.3 230.8 L379.2 230.8 L380.0 230.8 L380.8 230.8 L381.7 230.8 L382.6 230.8 L383.4 230.8 L384.3 230.8 L385.3 230.8 L386.2 230.8 L387.2 230.8 L388.3 230.8 L389.4 230.8 L390.5 230.8 L391.8 230.8 L393.1 230.8 L394.6 230.8 L396.2 230.8 L398.0 230.8 L400.0 230.8 L402.3 230.8 L404.6 231.0 L406.8 231.5 L409.1 232.1 L411.8 232.9 L414.2 233.9 L415.8 235.4 L417.5 237.0 L419.2 238.7 L420.3 240.6 L421.5 242.6 L422.0 244.8Z" fill="#888cca"/>
<path d="M414.3 247.0 L413.4 248.8 L412.5 250.4 L411.7 252.0 L410.1 253.4 L407.4 254.3 L404.9 255.1 L402.8 255.8 L400.7 256.2 L398.8 256.6 L397.2 256.9 L395.8 257.2 L394.5 257.5 L393.3 257.8 L392.2 258.0 L391.2 258.2 L390.1 258.2 L389.1 258.2 L388.1 258.1 L387.2 258.1 L386.4 258.0 L385.6 258.0 L384.9 258.0 L384.2 257.9 L383.5 257.9 L382.9 257.8 L382.3 257.8 L381.7 257.8 L381.1 257.7 L380.6 257.7 L380.0 257.7 L379.4 257.6 L378.9 257.6 L378.3 257.6 L377.8 257.5 L377.2 257.5 L376.6 257.5 L376.0 257.4 L375.4 257.3 L374.8 257.2 L374.2 257.1 L373.5 257.0 L372.9 256.8 L372.1 256.7 L371.4 256.6 L370.6 256.4 L369.7 256.3 L368.7 256.1 L367.7 255.9 L366.7 255.6 L365.6 255.3 L364.5 254.9 L363.5 254.4 L362.3 253.8 L361.1 253.2 L359.7 252.5 L358.1 251.7 L356.3 250.8 L354.9 249.6 L353.8 248.4 L352.9 247.0 L352.0 245.5 L351.4 244.0 L351.2 242.4 L352.5 241.2 L353.6 239.9 L355.4 239.0 L357.1 238.2 L358.5 237.4 L359.9 236.8 L361.1 236.1 L362.6 235.7 L364.1 235.5 L365.5 235.3 L366.7 235.1 L367.9 234.9 L369.0 234.8 L370.0 234.7 L371.0 234.6 L371.9 234.5 L372.7 234.4 L373.6 234.4 L374.3 234.3 L375.1 234.2 L375.8 234.2 L376.5 234.1 L377.3 234.1 L378.0 234.1 L378.6 234.1 L379.3 234.1 L380.0 234.1 L380.7 234.1 L381.4 234.1 L382.0 234.1 L382.7 234.1 L383.5 234.1 L384.2 234.1 L385.0 234.1 L385.7 234.1 L386.6 234.1 L387.4 234.1 L388.4 234.1 L389.4 234.1 L390.4 234.1 L391.6 234.1 L392.9 234.1 L394.3 234.1 L395.9 234.1 L397.8 234.1 L399.7 234.2 L401.5 234.6 L403.6 235.0 L405.8 235.5 L407.7 236.4 L409.1 237.6 L410.5 238.8 L412.0 240.2 L413.1 241.8 L414.4 243.4 L414.6 245.2Z" fill="#6a72be"/>
<path d="M406.6 247.0 L405.8 248.3 L405.0 249.6 L404.2 250.8 L403.1 251.9 L401.1 252.7 L399.3 253.3 L397.7 253.8 L396.2 254.2 L394.8 254.6 L393.6 254.9 L392.6 255.2 L391.6 255.4 L390.7 255.7 L389.9 255.9 L389.0 256.0 L388.1 256.0 L387.3 256.0 L386.5 255.9 L385.8 255.9 L385.1 255.8 L384.5 255.8 L383.9 255.8 L383.4 255.7 L382.8 255.7 L382.3 255.7 L381.8 255.6 L381.4 255.6 L380.9 255.6 L380.4 255.6 L380.0 255.5 L379.6 255.5 L379.1 255.5 L378.7 255.4 L378.2 255.4 L377.8 255.4 L377.3 255.4 L376.8 255.3 L376.3 255.2 L375.8 255.2 L375.3 255.1 L374.8 255.0 L374.2 255.0 L373.6 254.9 L373.0 254.8 L372.3 254.7 L371.6 254.6 L370.7 254.5 L369.9 254.4 L369.0 254.1 L368.2 253.8 L367.4 253.4 L366.5 253.0 L365.6 252.5 L364.5 252.0 L363.4 251.5 L362.1 250.8 L360.6 250.1 L359.3 249.2 L358.3 248.1 L357.6 247.0 L356.9 245.8 L356.4 244.5 L356.0 243.2 L357.8 242.3 L359.3 241.4 L360.9 240.8 L362.4 240.2 L363.7 239.7 L364.8 239.3 L365.9 238.8 L367.0 238.5 L368.1 238.3 L369.1 238.2 L370.0 238.0 L370.8 237.8 L371.7 237.7 L372.5 237.7 L373.2 237.6 L373.9 237.6 L374.6 237.6 L375.2 237.5 L375.8 237.5 L376.3 237.5 L376.9 237.4 L377.4 237.4 L378.0 237.4 L378.5 237.4 L379.0 237.4 L379.5 237.4 L380.0 237.4 L380.5 237.4 L381.0 237.4 L381.5 237.4 L382.0 237.4 L382.6 237.4 L383.1 237.4 L383.7 237.4 L384.3 237.4 L384.9 237.4 L385.5 237.4 L386.2 237.4 L387.0 237.4 L387.8 237.4 L388.6 237.4 L389.6 237.4 L390.7 237.4 L391.9 237.4 L393.2 237.4 L394.7 237.5 L396.2 237.6 L398.0 237.8 L399.9 238.1 L401.2 238.9 L402.3 239.7 L403.6 240.7 L404.8 241.7 L406.0 242.9 L407.2 244.1 L407.2 245.6Z" fill="#5061b6"/>
<path d="M398.9 247.0 L398.1 247.9 L397.4 248.8 L396.8 249.7 L396.1 250.4 L394.9 251.0 L393.7 251.5 L392.7 251.9 L391.7 252.2 L390.9 252.5 L390.1 252.8 L389.4 253.1 L388.7 253.3 L388.1 253.6 L387.5 253.8 L386.9 253.9 L386.1 253.8 L385.5 253.8 L384.9 253.7 L384.3 253.7 L383.8 253.7 L383.4 253.6 L382.9 253.6 L382.5 253.6 L382.1 253.5 L381.7 253.5 L381.4 253.5 L381.0 253.5 L380.7 253.4 L380.3 253.4 L380.0 253.4 L379.7 253.4 L379.3 253.3 L379.0 253.3 L378.7 253.3 L378.3 253.3 L378.0 253.2 L377.6 253.2 L377.2 253.2 L376.9 253.2 L376.5 253.1 L376.0 253.1 L375.6 253.1 L375.1 253.0 L374.6 253.0 L374.0 253.0 L373.4 252.9 L372.8 252.9 L372.0 252.8 L371.4 252.6 L370.8 252.3 L370.2 252.0 L369.5 251.7 L368.8 251.3 L368.0 250.9 L367.1 250.5 L366.1 250.0 L365.0 249.4 L363.6 248.7 L362.8 247.9 L362.3 247.0 L361.8 246.0 L361.3 245.0 L360.9 244.0 L363.1 243.4 L364.9 243.0 L366.4 242.6 L367.7 242.3 L368.8 242.0 L369.7 241.8 L370.6 241.6 L371.3 241.4 L372.0 241.2 L372.6 241.0 L373.2 240.9 L373.8 240.8 L374.3 240.7 L374.9 240.7 L375.4 240.7 L375.9 240.7 L376.4 240.7 L376.8 240.7 L377.2 240.7 L377.6 240.7 L378.0 240.7 L378.3 240.7 L378.7 240.7 L379.0 240.7 L379.3 240.7 L379.7 240.7 L380.0 240.7 L380.3 240.7 L380.7 240.7 L381.0 240.7 L381.3 240.7 L381.7 240.7 L382.0 240.7 L382.4 240.7 L382.8 240.7 L383.2 240.7 L383.6 240.7 L384.1 240.7 L384.6 240.7 L385.1 240.7 L385.7 240.7 L386.3 240.7 L387.0 240.7 L387.8 240.7 L388.7 240.7 L389.7 240.7 L390.9 240.7 L392.4 240.7 L393.9 240.8 L394.8 241.3 L395.6 241.9 L396.6 242.6 L397.6 243.3 L398.8 244.0 L400.1 244.9 L399.7 246.0Z" fill="#3c54ae"/>
<path d="M351.3 247.0 L355.0 249.7 L358.9 252.9 L362.4 256.4 L365.5 260.3 L367.9 264.4 L367.3 267.9 L365.6 271.0 L362.3 273.4 L358.5 275.3 L353.4 276.1 L349.0 276.8 L345.0 277.5 L341.4 278.1 L338.1 278.6 L335.0 279.0 L332.2 279.5 L329.6 279.8 L327.1 280.1 L324.7 280.4 L322.5 280.7 L320.3 281.0 L318.2 281.1 L316.1 281.2 L314.1 281.3 L312.2 281.4 L310.3 281.5 L308.5 281.6 L306.6 281.7 L304.8 281.8 L303.0 281.8 L301.2 281.9 L299.3 282.0 L297.4 282.1 L295.5 282.2 L293.5 282.3 L291.5 282.4 L289.4 282.5 L287.1 282.6 L284.8 282.7 L282.3 282.9 L279.6 283.0 L279.6 279.2 L279.6 275.9 L279.6 273.0 L279.6 270.4 L279.6 268.1 L279.6 265.9 L279.6 264.0 L279.6 262.2 L279.6 260.5 L279.6 258.9 L279.6 257.4 L279.6 256.0 L279.6 254.6 L279.6 253.3 L279.6 252.0 L279.6 250.7 L279.6 249.5 L279.6 248.2 L279.6 247.0 L279.6 245.8 L279.6 244.5 L279.6 243.3 L279.6 242.0 L279.6 240.7 L279.6 239.4 L279.6 238.0 L279.6 236.6 L279.6 235.1 L279.6 233.5 L279.6 231.8 L279.6 230.0 L279.6 228.1 L279.6 225.9 L279.6 223.6 L281.0 222.6 L283.2 222.6 L285.3 222.6 L287.2 222.6 L288.9 222.6 L290.6 222.6 L292.1 222.6 L293.6 222.6 L295.1 222.6 L296.5 222.6 L297.8 222.6 L299.1 222.6 L300.4 222.6 L301.7 222.6 L303.0 222.6 L304.3 222.6 L305.6 222.6 L306.9 222.6 L308.2 222.6 L309.5 222.6 L310.9 222.6 L312.4 222.6 L313.9 222.6 L315.4 222.6 L317.1 222.6 L318.8 222.6 L320.4 223.0 L321.6 224.0 L322.7 225.1 L323.9 226.1 L325.1 227.1 L326.2 228.2 L327.4 229.3 L328.7 230.3 L329.9 231.4 L331.3 232.6 L332.6 233.8 L334.1 235.1 L335.8 236.3 L337.6 237.7 L339.6 239.2 L341.8 240.9 L344.6 242.6 L347.8 244.7Z" fill="#fde6e7"/>
<path d="M355.0 292.0 L362.3 295.3 L369.6 299.4 L368.1 302.9 L360.4 305.1 L352.9 306.5 L347.8 307.9 L344.2 309.3 L340.9 310.6 L337.9 311.8 L335.2 312.9 L334.3 315.0 L333.6 317.2 L332.9 319.4 L332.1 321.8 L330.2 323.2 L328.3 324.5 L326.3 325.8 L324.5 327.0 L322.6 328.3 L320.7 329.5 L318.4 330.2 L316.1 330.4 L313.8 330.6 L311.6 330.8 L309.5 331.1 L307.3 331.3 L305.3 331.5 L303.2 331.7 L301.1 331.9 L299.0 332.0 L296.9 332.0 L294.8 332.0 L292.7 332.0 L290.5 332.0 L288.3 332.0 L286.0 332.0 L283.6 332.0 L281.2 332.0 L279.6 330.1 L279.6 325.6 L279.6 321.9 L279.6 318.7 L279.6 316.0 L279.6 313.5 L279.6 311.4 L279.6 309.5 L279.6 307.7 L279.6 306.1 L279.6 304.6 L279.6 303.2 L279.6 301.9 L279.6 300.6 L279.6 299.4 L279.6 298.3 L279.6 297.2 L279.6 296.1 L279.6 295.1 L279.6 294.0 L279.6 293.0 L279.6 292.0 L279.6 291.0 L279.6 290.0 L279.6 288.9 L279.6 287.9 L279.6 286.8 L279.6 285.7 L279.6 284.6 L279.6 283.4 L279.6 282.1 L279.6 280.8 L279.6 279.4 L279.6 277.9 L279.6 276.3 L279.6 274.5 L279.6 272.6 L279.6 270.5 L279.6 268.0 L282.3 269.0 L284.6 269.8 L286.6 270.5 L288.4 271.2 L290.0 271.8 L291.4 272.3 L292.7 272.8 L294.0 273.2 L295.1 273.6 L296.1 274.0 L297.1 274.3 L298.1 274.7 L299.0 275.0 L299.9 275.3 L300.7 275.6 L301.5 275.9 L302.4 276.2 L303.1 276.5 L303.9 276.8 L304.7 277.1 L305.5 277.4 L306.3 277.7 L307.1 278.0 L307.9 278.3 L308.8 278.6 L309.6 278.9 L310.6 279.1 L311.8 279.2 L313.1 279.3 L314.5 279.5 L316.0 279.6 L317.8 279.8 L319.7 280.0 L322.0 280.3 L324.7 280.5 L327.9 280.9 L330.8 281.7 L333.7 282.7 L337.0 283.9 L340.8 285.4 L344.7 287.2 L349.3 289.4Z" fill="#fde6e7"/>
<path d="M446.5 222.6 L449.0 238.3 L449.8 254.6 L451.4 270.9 L456.3 279.0 L462.8 290.4 L472.6 300.2 L482.3 305.0 L489.0 307.0 L489.0 222.6Z" fill="#fde6e7"/>
<path d="M347.4 247.0 L350.3 249.5 L353.5 252.3 L356.3 255.4 L358.6 258.8 L360.5 262.4 L360.0 265.5 L358.3 268.2 L355.5 270.4 L352.3 272.1 L348.2 273.1 L344.4 273.9 L341.0 274.6 L337.8 275.2 L334.9 275.8 L332.3 276.3 L329.8 276.8 L327.4 277.2 L325.2 277.5 L323.1 277.9 L321.0 278.2 L319.1 278.5 L317.1 278.7 L315.3 278.9 L313.4 279.1 L311.7 279.3 L309.9 279.5 L308.2 279.6 L306.4 279.8 L304.7 279.9 L303.0 280.1 L301.3 280.3 L299.5 280.4 L297.7 280.6 L295.8 280.8 L293.9 281.0 L291.9 281.1 L289.8 281.3 L287.7 281.4 L285.4 281.6 L283.0 281.7 L280.3 281.9 L279.6 279.2 L279.6 275.9 L279.6 273.0 L279.6 270.4 L279.6 268.1 L279.6 265.9 L279.6 264.0 L279.6 262.2 L279.6 260.5 L279.6 258.9 L279.6 257.4 L279.6 256.0 L279.6 254.6 L279.6 253.3 L279.6 252.0 L279.6 250.7 L279.6 249.5 L279.6 248.2 L279.6 247.0 L279.6 245.8 L279.6 244.5 L279.6 243.3 L279.6 242.0 L279.6 240.7 L279.6 239.4 L279.6 238.0 L279.6 236.6 L279.6 235.1 L279.6 233.5 L279.6 231.8 L279.6 230.0 L279.6 228.1 L279.6 225.9 L279.6 223.6 L281.0 222.6 L283.2 222.6 L285.3 222.6 L287.2 222.6 L288.9 222.6 L290.6 222.6 L292.1 222.6 L293.6 222.6 L295.1 222.6 L296.5 222.6 L297.8 222.7 L299.2 222.8 L300.5 222.9 L301.7 223.0 L303.0 223.1 L304.3 223.1 L305.5 223.2 L306.7 223.3 L308.0 223.4 L309.3 223.6 L310.6 223.7 L311.9 223.8 L313.3 223.9 L314.7 224.0 L316.2 224.1 L317.8 224.2 L319.3 224.6 L320.4 225.6 L321.5 226.5 L322.6 227.4 L323.7 228.4 L324.8 229.4 L325.9 230.3 L327.1 231.3 L328.4 232.4 L329.7 233.4 L331.0 234.6 L332.3 235.7 L333.9 237.0 L335.6 238.3 L337.4 239.7 L339.4 241.2 L341.9 242.9 L344.5 244.8Z" fill="#f9c4c8"/>
<path d="M350.7 292.0 L357.4 295.1 L364.6 298.9 L363.0 302.1 L356.8 304.3 L350.4 305.8 L345.1 307.0 L341.5 308.3 L338.4 309.5 L335.6 310.6 L333.0 311.6 L331.6 313.2 L330.8 315.1 L330.1 317.2 L329.3 319.3 L327.8 320.8 L326.0 321.9 L324.2 323.1 L322.4 324.2 L320.6 325.3 L318.9 326.4 L316.9 327.1 L314.8 327.4 L312.7 327.7 L310.7 328.0 L308.7 328.2 L306.8 328.5 L304.8 328.8 L302.9 329.0 L301.0 329.3 L299.0 329.4 L297.0 329.4 L295.1 329.4 L293.1 329.4 L291.1 329.4 L289.0 329.4 L286.8 329.4 L284.6 329.4 L282.3 329.4 L279.9 329.4 L279.6 325.6 L279.6 321.9 L279.6 318.7 L279.6 316.0 L279.6 313.5 L279.6 311.4 L279.6 309.5 L279.6 307.7 L279.6 306.1 L279.6 304.6 L279.6 303.2 L279.6 301.9 L279.6 300.6 L279.6 299.4 L279.6 298.3 L279.6 297.2 L279.6 296.1 L279.6 295.1 L279.6 294.0 L279.6 293.0 L279.6 292.0 L279.6 291.0 L279.6 290.0 L279.6 288.9 L279.6 287.9 L279.6 286.8 L279.6 285.7 L279.6 284.6 L279.6 283.4 L279.6 282.1 L279.6 280.8 L279.6 279.4 L279.6 277.9 L279.6 276.3 L279.6 274.5 L279.6 272.6 L279.6 270.5 L281.8 270.7 L284.1 271.5 L286.1 272.1 L287.9 272.7 L289.4 273.2 L290.9 273.7 L292.1 274.1 L293.3 274.5 L294.4 274.9 L295.4 275.2 L296.4 275.5 L297.3 275.8 L298.2 276.1 L299.0 276.4 L299.8 276.6 L300.6 276.9 L301.4 277.2 L302.1 277.4 L302.8 277.6 L303.6 277.9 L304.3 278.1 L305.1 278.4 L305.8 278.6 L306.6 278.9 L307.4 279.1 L308.2 279.4 L309.0 279.7 L309.8 280.0 L310.9 280.1 L312.0 280.3 L313.2 280.5 L314.5 280.7 L316.0 280.9 L317.7 281.2 L319.6 281.5 L321.8 281.9 L324.4 282.3 L327.5 282.8 L330.5 283.6 L333.6 284.7 L337.1 286.0 L341.2 287.6 L345.5 289.6Z" fill="#f9c4c8"/>
<path d="M457.9 222.6 L459.5 238.3 L461.2 254.6 L457.9 264.3 L461.2 274.1 L467.7 285.5 L477.5 295.3 L489.0 300.5 L489.0 222.6Z" fill="#f9c4c8"/>
<path d="M343.4 247.0 L345.7 249.2 L348.1 251.7 L350.2 254.5 L351.8 257.4 L353.0 260.4 L352.6 263.1 L351.0 265.4 L348.7 267.4 L346.2 269.0 L343.0 270.1 L339.9 270.9 L337.0 271.7 L334.3 272.3 L331.8 273.0 L329.5 273.5 L327.4 274.1 L325.3 274.6 L323.3 275.0 L321.4 275.4 L319.6 275.7 L317.8 276.1 L316.1 276.4 L314.4 276.7 L312.7 276.9 L311.1 277.2 L309.5 277.4 L307.9 277.7 L306.2 277.9 L304.6 278.1 L303.0 278.4 L301.3 278.6 L299.7 278.8 L297.9 279.1 L296.1 279.4 L294.2 279.7 L292.3 279.8 L290.3 280.0 L288.2 280.2 L286.0 280.4 L283.6 280.6 L281.0 280.8 L279.7 279.1 L279.6 275.9 L279.6 273.0 L279.6 270.4 L279.6 268.1 L279.6 265.9 L279.6 264.0 L279.6 262.2 L279.6 260.5 L279.6 258.9 L279.6 257.4 L279.6 256.0 L279.6 254.6 L279.6 253.3 L279.6 252.0 L279.6 250.7 L279.6 249.5 L279.6 248.2 L279.6 247.0 L279.6 245.8 L279.6 244.5 L279.6 243.3 L279.6 242.0 L279.6 240.7 L279.6 239.4 L279.6 238.0 L279.6 236.6 L279.6 235.1 L279.6 233.5 L279.6 231.8 L279.6 230.0 L279.6 228.1 L279.6 225.9 L279.6 223.6 L281.0 222.6 L283.2 222.6 L285.3 222.6 L287.2 222.6 L288.9 222.6 L290.6 222.6 L292.1 222.6 L293.6 222.6 L295.1 222.6 L296.5 222.7 L297.9 222.9 L299.2 223.0 L300.5 223.2 L301.8 223.4 L303.0 223.5 L304.2 223.7 L305.4 223.9 L306.6 224.1 L307.8 224.3 L309.0 224.5 L310.2 224.7 L311.5 224.9 L312.7 225.1 L314.0 225.3 L315.4 225.5 L316.8 225.8 L318.1 226.2 L319.1 227.1 L320.2 227.9 L321.2 228.8 L322.3 229.6 L323.4 230.5 L324.5 231.4 L325.6 232.3 L326.8 233.3 L328.0 234.2 L329.3 235.3 L330.5 236.4 L332.0 237.6 L333.5 238.8 L335.2 240.2 L337.0 241.6 L339.2 243.2 L341.3 245.0Z" fill="#f4a3a9"/>
<path d="M346.0 292.0 L351.5 294.8 L356.6 298.1 L354.4 300.8 L349.3 302.7 L343.9 304.0 L339.2 305.1 L334.3 305.6 L330.4 306.0 L327.1 306.3 L324.2 306.6 L321.8 306.8 L319.7 307.0 L317.8 307.2 L316.1 307.4 L314.5 307.5 L313.1 307.7 L311.8 307.8 L310.6 307.9 L309.4 308.1 L308.3 308.2 L307.3 308.3 L306.3 308.4 L305.3 308.5 L304.4 308.6 L303.5 308.7 L302.6 308.7 L301.7 308.8 L300.8 308.9 L299.9 309.0 L299.0 309.0 L298.1 309.0 L297.2 309.0 L296.3 309.0 L295.4 309.0 L294.4 309.0 L293.5 309.0 L292.5 309.0 L291.4 309.0 L290.3 309.0 L289.2 309.0 L288.0 309.0 L286.6 309.0 L285.2 309.0 L283.7 309.0 L282.0 309.0 L280.1 309.0 L279.6 307.7 L279.6 306.1 L279.6 304.6 L279.6 303.2 L279.6 301.9 L279.6 300.6 L279.6 299.4 L279.6 298.3 L279.6 297.2 L279.6 296.1 L279.6 295.1 L279.6 294.0 L279.6 293.0 L279.6 292.0 L279.6 291.0 L279.6 290.0 L279.6 288.9 L279.6 287.9 L279.6 286.8 L279.6 285.7 L279.6 284.6 L279.6 283.4 L279.6 282.1 L279.6 280.8 L279.6 279.4 L279.6 277.9 L279.6 276.3 L279.6 274.5 L279.6 272.6 L281.6 272.7 L284.0 273.4 L286.0 274.1 L287.8 274.7 L289.3 275.2 L290.7 275.6 L291.9 276.0 L293.0 276.4 L294.0 276.8 L295.0 277.1 L295.9 277.4 L296.7 277.6 L297.5 277.9 L298.3 278.1 L299.0 278.4 L299.7 278.6 L300.4 278.8 L301.1 279.1 L301.7 279.3 L302.4 279.5 L303.0 279.7 L303.6 279.9 L304.3 280.1 L304.9 280.3 L305.6 280.6 L306.3 280.8 L307.0 281.0 L307.7 281.2 L308.5 281.5 L309.2 281.8 L310.1 282.0 L311.2 282.2 L312.3 282.3 L313.7 282.5 L315.1 282.7 L316.9 282.9 L318.8 283.2 L321.2 283.5 L324.1 283.9 L327.7 284.3 L330.8 285.2 L333.8 286.5 L337.5 288.0 L341.5 289.8Z" fill="#f4a3a9"/>
<path d="M467.7 222.6 L471.0 238.3 L475.8 251.3 L469.3 262.7 L467.7 270.9 L475.8 282.3 L487.2 290.4 L489.0 291.0 L489.0 222.6Z" fill="#f4a3a9"/>
<path d="M339.5 247.0 L341.0 249.0 L342.7 251.2 L344.1 253.5 L344.9 255.9 L345.5 258.4 L345.2 260.7 L343.7 262.6 L342.0 264.4 L340.1 265.9 L337.9 267.1 L335.3 268.0 L333.0 268.8 L330.8 269.5 L328.7 270.2 L326.8 270.8 L325.0 271.4 L323.2 271.9 L321.4 272.4 L319.8 272.8 L318.2 273.2 L316.6 273.7 L315.0 274.0 L313.5 274.4 L312.0 274.7 L310.5 275.1 L309.0 275.4 L307.5 275.7 L306.0 276.0 L304.5 276.3 L303.0 276.6 L301.4 276.9 L299.8 277.3 L298.2 277.6 L296.4 278.0 L294.6 278.3 L292.8 278.5 L290.8 278.7 L288.8 279.0 L286.6 279.2 L284.3 279.4 L281.8 279.7 L279.7 279.0 L279.6 275.9 L279.6 273.0 L279.6 270.4 L279.6 268.1 L279.6 265.9 L279.6 264.0 L279.6 262.2 L279.6 260.5 L279.6 258.9 L279.6 257.4 L279.6 256.0 L279.6 254.6 L279.6 253.3 L279.6 252.0 L279.6 250.7 L279.6 249.5 L279.6 248.2 L279.6 247.0 L279.6 245.8 L279.6 244.5 L279.6 243.3 L279.6 242.0 L279.6 240.7 L279.6 239.4 L279.6 238.0 L279.6 236.6 L279.6 235.1 L279.6 233.5 L279.6 231.8 L279.6 230.0 L279.6 228.1 L279.6 225.9 L279.6 223.6 L281.0 222.6 L283.2 222.6 L285.3 222.6 L287.2 222.6 L288.9 222.6 L290.6 222.6 L292.1 222.6 L293.6 222.6 L295.1 222.6 L296.5 222.7 L297.9 223.0 L299.2 223.3 L300.5 223.5 L301.8 223.8 L303.0 224.0 L304.2 224.2 L305.4 224.5 L306.5 224.8 L307.6 225.1 L308.8 225.5 L309.9 225.8 L311.0 226.1 L312.2 226.4 L313.3 226.7 L314.5 227.0 L315.8 227.3 L316.9 227.9 L317.9 228.6 L318.9 229.4 L319.9 230.1 L320.9 230.9 L321.9 231.7 L323.0 232.5 L324.1 233.3 L325.2 234.2 L326.4 235.1 L327.6 236.1 L328.8 237.1 L330.1 238.2 L331.5 239.4 L333.0 240.6 L334.6 242.0 L336.5 243.5 L338.0 245.2Z" fill="#ef8389"/>
<path d="M338.9 292.0 L342.4 294.3 L345.6 296.9 L344.1 299.1 L340.5 300.8 L336.8 302.1 L333.3 303.2 L329.3 303.6 L326.0 304.0 L323.2 304.3 L320.8 304.6 L318.8 304.9 L317.0 305.1 L315.4 305.3 L313.9 305.4 L312.6 305.6 L311.3 305.7 L310.2 305.8 L309.1 305.9 L308.1 306.0 L307.1 306.1 L306.2 306.2 L305.3 306.2 L304.5 306.3 L303.7 306.4 L302.9 306.5 L302.1 306.5 L301.3 306.6 L300.5 306.7 L299.8 306.7 L299.0 306.8 L298.2 306.8 L297.4 306.8 L296.7 306.8 L295.9 306.8 L295.0 306.8 L294.2 306.8 L293.3 306.8 L292.4 306.9 L291.4 306.9 L290.4 306.9 L289.3 306.9 L288.2 306.9 L286.9 306.9 L285.6 306.9 L284.1 306.9 L282.4 306.9 L281.6 306.1 L281.1 305.0 L280.5 304.0 L279.8 303.1 L279.6 301.9 L279.6 300.6 L279.6 299.4 L279.6 298.3 L279.6 297.2 L279.6 296.1 L279.6 295.1 L279.6 294.0 L279.6 293.0 L279.6 292.0 L279.6 291.0 L279.6 290.0 L279.6 288.9 L279.6 287.9 L279.6 286.8 L279.6 285.7 L279.6 284.6 L279.6 283.4 L279.6 282.1 L279.6 280.8 L279.6 279.4 L279.6 277.9 L279.6 276.3 L279.8 274.8 L280.5 273.5 L282.3 273.5 L284.4 274.0 L286.3 274.5 L287.9 274.9 L289.3 275.2 L290.6 275.5 L291.8 275.7 L292.8 275.9 L293.8 276.0 L294.7 276.1 L295.7 276.2 L296.5 276.3 L297.4 276.4 L298.2 276.5 L299.0 276.6 L299.8 276.7 L300.6 277.0 L301.3 277.2 L302.1 277.5 L302.8 277.7 L303.6 278.0 L304.3 278.2 L305.0 278.5 L305.7 278.8 L306.4 279.2 L307.1 279.5 L307.8 279.9 L308.5 280.2 L309.3 280.6 L310.0 281.0 L310.8 281.4 L311.8 281.7 L312.8 282.0 L313.9 282.3 L315.2 282.7 L316.6 283.1 L318.1 283.5 L320.0 283.9 L322.2 284.5 L324.8 285.1 L327.2 286.0 L329.6 287.2 L332.4 288.5 L335.5 290.1Z" fill="#ef8389"/>
<path d="M470.0 222.6 L472.6 228.5 L477.5 235.0 L482.3 251.3 L489.0 256.0 L489.0 222.6Z" fill="#ef8389"/>
<path d="M489.0 262.0 L478.0 266.0 L474.2 268.0 L475.8 275.7 L482.3 283.9 L489.0 287.5Z" fill="#ef8389"/>
<path d="M335.5 247.0 L336.4 248.7 L337.3 250.6 L338.0 252.5 L338.0 254.4 L338.0 256.4 L337.8 258.3 L336.5 259.8 L335.2 261.3 L334.0 262.8 L332.7 264.1 L330.8 265.0 L328.9 265.8 L327.2 266.6 L325.6 267.4 L324.1 268.1 L322.6 268.7 L321.1 269.3 L319.6 269.8 L318.1 270.3 L316.7 270.8 L315.3 271.2 L314.0 271.7 L312.6 272.1 L311.3 272.6 L310.0 273.0 L308.6 273.4 L307.2 273.7 L305.8 274.1 L304.4 274.5 L303.0 274.9 L301.5 275.3 L300.0 275.7 L298.4 276.1 L296.7 276.5 L295.0 277.0 L293.2 277.2 L291.3 277.5 L289.3 277.7 L287.2 278.0 L284.9 278.3 L282.5 278.6 L279.8 279.0 L279.6 275.9 L279.6 273.0 L279.6 270.4 L279.6 268.1 L279.6 265.9 L279.6 264.0 L279.6 262.2 L279.6 260.5 L279.6 258.9 L279.6 257.4 L279.6 256.0 L279.6 254.6 L279.6 253.3 L279.6 252.0 L279.6 250.7 L279.6 249.5 L279.6 248.2 L279.6 247.0 L279.6 245.8 L279.6 244.5 L279.6 243.3 L279.6 242.0 L279.6 240.7 L279.6 239.4 L279.6 238.0 L279.6 236.6 L279.6 235.1 L279.6 233.5 L279.6 231.8 L279.6 230.0 L279.6 228.1 L279.6 225.9 L279.6 223.6 L281.0 222.6 L283.2 222.6 L285.3 222.6 L287.2 222.6 L288.9 222.6 L290.6 222.6 L292.1 222.6 L293.6 222.6 L295.1 222.6 L296.5 222.7 L297.9 223.1 L299.3 223.5 L300.6 223.8 L301.8 224.1 L303.0 224.5 L304.2 224.8 L305.3 225.1 L306.4 225.6 L307.5 226.0 L308.5 226.4 L309.6 226.8 L310.6 227.2 L311.6 227.6 L312.7 228.1 L313.7 228.5 L314.8 228.9 L315.7 229.5 L316.6 230.2 L317.6 230.8 L318.5 231.5 L319.5 232.1 L320.5 232.8 L321.5 233.6 L322.6 234.3 L323.7 235.1 L324.8 235.9 L325.9 236.8 L327.0 237.8 L328.2 238.8 L329.4 239.9 L330.7 241.1 L332.2 242.4 L333.7 243.8 L334.7 245.3Z" fill="#eb646b"/>
<path d="M331.7 292.0 L333.3 293.8 L334.7 295.8 L333.7 297.5 L331.7 298.9 L329.6 300.2 L327.4 301.2 L324.2 301.7 L321.6 302.1 L319.4 302.4 L317.4 302.6 L315.8 302.9 L314.3 303.1 L312.9 303.3 L311.7 303.5 L310.6 303.6 L309.5 303.7 L308.5 303.8 L307.6 303.8 L306.7 303.9 L305.9 304.0 L305.1 304.0 L304.4 304.1 L303.7 304.2 L303.0 304.2 L302.3 304.3 L301.6 304.3 L301.0 304.4 L300.3 304.4 L299.7 304.5 L299.0 304.5 L298.3 304.5 L297.7 304.6 L297.0 304.6 L296.3 304.6 L295.6 304.6 L294.9 304.7 L294.1 304.7 L293.3 304.7 L292.5 304.8 L291.6 304.8 L290.7 304.8 L289.7 304.9 L288.6 304.9 L287.4 304.9 L286.1 304.9 L284.7 304.9 L283.6 304.4 L282.6 303.9 L281.4 303.4 L280.1 302.9 L279.6 301.9 L279.6 300.6 L279.6 299.4 L279.6 298.3 L279.6 297.2 L279.6 296.1 L279.6 295.1 L279.6 294.0 L279.6 293.0 L279.6 292.0 L279.6 291.0 L279.6 290.0 L279.6 288.9 L279.6 287.9 L279.6 286.8 L279.6 285.7 L279.6 284.6 L279.6 283.4 L279.6 282.1 L279.6 280.8 L279.6 279.4 L279.6 277.9 L279.6 276.3 L280.1 275.0 L281.3 274.3 L283.1 274.4 L284.9 274.6 L286.5 274.8 L288.0 275.0 L289.3 275.2 L290.5 275.3 L291.6 275.4 L292.6 275.3 L293.6 275.3 L294.5 275.2 L295.4 275.1 L296.3 275.0 L297.2 274.9 L298.1 274.8 L299.0 274.7 L299.9 274.9 L300.8 275.2 L301.6 275.4 L302.5 275.7 L303.3 276.0 L304.1 276.3 L304.9 276.5 L305.8 276.8 L306.5 277.3 L307.2 277.8 L307.9 278.3 L308.6 278.8 L309.3 279.2 L310.1 279.7 L310.8 280.2 L311.5 280.7 L312.4 281.2 L313.3 281.6 L314.2 282.1 L315.2 282.6 L316.3 283.2 L317.4 283.8 L318.7 284.4 L320.2 285.1 L322.0 285.8 L323.7 286.8 L325.3 287.8 L327.3 289.0 L329.4 290.4Z" fill="#eb646b"/>
<path d="M483.0 234.0 L489.0 230.0 L489.0 248.0 L484.0 246.0Z" fill="#eb646b"/>
<path d="M482.0 271.0 L489.0 268.0 L489.0 284.0 L483.0 283.0Z" fill="#eb646b"/>
<path d="M332.9 247.0 L333.7 248.6 L334.7 250.3 L335.5 252.1 L335.8 254.0 L335.6 255.7 L335.0 257.4 L333.8 258.8 L332.6 260.2 L331.1 261.3 L329.6 262.3 L327.7 263.0 L326.0 263.7 L324.4 264.3 L322.9 264.9 L321.4 265.4 L320.1 266.0 L318.7 266.4 L317.3 266.7 L316.0 267.1 L314.8 267.4 L313.6 267.7 L312.4 268.0 L311.2 268.4 L310.0 268.7 L308.9 269.0 L307.7 269.2 L306.6 269.5 L305.4 269.8 L304.2 270.0 L303.0 270.3 L301.8 270.6 L300.5 270.9 L299.2 271.2 L297.8 271.5 L296.3 271.8 L294.9 272.0 L293.3 272.2 L291.7 272.3 L290.0 272.5 L288.2 272.7 L286.2 272.8 L284.1 273.0 L283.6 271.0 L283.2 269.0 L282.8 267.2 L282.3 265.6 L281.8 264.1 L281.3 262.8 L280.9 261.4 L280.4 260.0 L279.9 258.8 L279.6 257.4 L279.6 256.0 L279.6 254.6 L279.6 253.3 L279.6 252.0 L279.6 250.7 L279.6 249.5 L279.6 248.2 L279.6 247.0 L279.6 245.8 L279.6 244.5 L279.6 243.3 L279.6 242.0 L279.6 240.7 L279.6 239.4 L279.6 238.0 L279.6 236.6 L279.6 235.1 L280.1 233.8 L280.5 232.4 L280.8 230.9 L281.2 229.4 L281.6 227.8 L282.1 226.1 L283.5 225.4 L285.4 225.3 L287.2 225.2 L288.8 225.1 L290.3 225.1 L291.8 225.0 L293.2 224.9 L294.5 224.9 L295.8 224.8 L297.1 225.0 L298.4 225.4 L299.6 225.7 L300.8 226.0 L301.9 226.3 L303.0 226.6 L304.1 226.9 L305.1 227.2 L306.1 227.6 L307.0 228.0 L308.0 228.3 L308.9 228.7 L309.9 229.0 L310.8 229.4 L311.7 229.8 L312.7 230.3 L313.6 230.7 L314.5 231.2 L315.3 231.8 L316.2 232.4 L317.0 233.0 L317.9 233.6 L318.8 234.2 L319.8 234.8 L320.7 235.5 L321.8 236.2 L322.8 236.9 L323.8 237.7 L324.8 238.6 L325.9 239.6 L327.0 240.6 L328.2 241.6 L329.5 242.8 L331.0 244.1 L332.0 245.5Z" fill="#e8494f"/>
<path d="M324.6 292.0 L324.2 293.3 L323.7 294.6 L323.3 295.9 L322.9 297.1 L322.5 298.3 L321.5 299.3 L319.2 299.7 L317.2 300.1 L315.5 300.4 L314.0 300.7 L312.7 300.9 L311.6 301.1 L310.5 301.3 L309.6 301.5 L308.6 301.6 L307.7 301.7 L306.9 301.7 L306.1 301.8 L305.4 301.8 L304.7 301.9 L304.1 301.9 L303.4 302.0 L302.8 302.0 L302.3 302.0 L301.7 302.1 L301.2 302.1 L300.6 302.2 L300.1 302.2 L299.5 302.2 L299.0 302.3 L298.5 302.3 L297.9 302.3 L297.4 302.4 L296.8 302.4 L296.2 302.5 L295.6 302.5 L295.0 302.5 L294.3 302.6 L293.6 302.6 L292.8 302.7 L292.0 302.7 L291.2 302.8 L290.3 302.8 L289.3 302.8 L288.2 302.8 L287.0 302.8 L285.7 302.8 L284.1 302.8 L282.4 302.8 L280.3 302.8 L279.6 301.9 L279.6 300.6 L279.6 299.4 L279.6 298.3 L279.6 297.2 L279.6 296.1 L279.6 295.1 L279.6 294.0 L279.6 293.0 L279.6 292.0 L279.6 291.0 L279.6 290.0 L279.6 288.9 L279.6 287.9 L279.6 286.8 L279.6 285.7 L279.6 284.6 L279.6 283.4 L279.6 282.1 L279.6 280.8 L279.6 279.4 L279.6 277.9 L279.6 276.3 L280.3 275.2 L282.2 275.2 L283.9 275.2 L285.4 275.2 L286.8 275.2 L288.1 275.2 L289.3 275.2 L290.4 275.2 L291.5 275.1 L292.4 274.8 L293.3 274.5 L294.2 274.3 L295.2 274.0 L296.1 273.7 L297.1 273.5 L298.0 273.2 L299.0 272.9 L300.0 273.0 L301.0 273.3 L301.9 273.6 L302.8 273.9 L303.8 274.3 L304.7 274.6 L305.6 274.9 L306.5 275.2 L307.3 275.8 L308.0 276.4 L308.7 277.0 L309.4 277.6 L310.1 278.2 L310.8 278.8 L311.6 279.4 L312.3 280.1 L313.0 280.7 L313.7 281.3 L314.5 282.0 L315.2 282.6 L316.0 283.4 L316.7 284.1 L317.5 284.9 L318.3 285.7 L319.2 286.6 L320.1 287.5 L321.1 288.5 L322.2 289.6 L323.3 290.7Z" fill="#e8494f"/>
<path d="M330.3 247.0 L331.1 248.5 L332.0 250.1 L332.9 251.7 L333.7 253.5 L333.2 255.1 L332.3 256.5 L331.1 257.8 L329.9 259.0 L328.2 259.8 L326.4 260.5 L324.7 261.1 L323.0 261.5 L321.5 262.0 L320.1 262.4 L318.8 262.8 L317.6 263.2 L316.3 263.4 L315.1 263.6 L313.9 263.8 L312.8 264.0 L311.8 264.2 L310.8 264.4 L309.8 264.6 L308.8 264.8 L307.8 265.0 L306.9 265.1 L305.9 265.3 L304.9 265.4 L304.0 265.6 L303.0 265.8 L302.0 265.9 L301.0 266.1 L299.9 266.3 L298.9 266.4 L297.7 266.6 L296.6 266.8 L295.4 266.9 L294.1 266.9 L292.8 267.0 L291.4 267.0 L290.0 267.1 L288.4 267.1 L287.6 266.0 L286.8 265.0 L286.0 264.0 L285.1 263.1 L284.1 262.3 L283.0 261.5 L282.2 260.5 L281.2 259.6 L280.2 258.6 L279.6 257.4 L279.6 256.0 L279.6 254.6 L279.6 253.3 L279.6 252.0 L279.6 250.7 L279.6 249.5 L279.6 248.2 L279.6 247.0 L279.6 245.8 L279.6 244.5 L279.6 243.3 L279.6 242.0 L279.6 240.7 L279.6 239.4 L279.6 238.0 L279.6 236.6 L279.7 235.1 L280.5 234.0 L281.3 232.9 L282.1 231.8 L282.8 230.7 L283.7 229.6 L284.6 228.6 L286.0 228.1 L287.6 228.0 L289.1 227.8 L290.4 227.7 L291.7 227.5 L293.0 227.4 L294.2 227.2 L295.4 227.1 L296.5 227.0 L297.7 227.3 L298.9 227.6 L300.0 228.0 L301.0 228.3 L302.0 228.5 L303.0 228.8 L303.9 229.1 L304.9 229.4 L305.7 229.7 L306.6 230.0 L307.5 230.3 L308.3 230.6 L309.2 230.8 L310.0 231.2 L310.8 231.6 L311.6 232.0 L312.4 232.5 L313.2 232.9 L314.0 233.4 L314.8 233.9 L315.5 234.5 L316.3 235.0 L317.2 235.5 L318.0 236.1 L318.9 236.7 L319.8 237.3 L320.8 237.9 L321.7 238.7 L322.6 239.5 L323.6 240.3 L324.6 241.2 L325.7 242.2 L326.9 243.2 L328.2 244.4 L329.4 245.6Z" fill="#e5333a"/>
<path d="M312.6 292.0 L313.4 292.8 L313.4 293.5 L312.5 294.1 L311.8 294.7 L311.1 295.2 L310.4 295.7 L309.8 296.2 L309.3 296.6 L308.6 296.9 L307.7 297.1 L307.0 297.2 L306.3 297.3 L305.7 297.5 L305.2 297.6 L304.7 297.7 L304.2 297.8 L303.7 297.9 L303.3 297.9 L302.9 298.0 L302.5 298.1 L302.1 298.2 L301.8 298.2 L301.4 298.3 L301.1 298.4 L300.7 298.5 L300.4 298.5 L300.0 298.6 L299.7 298.7 L299.4 298.7 L299.0 298.8 L298.6 298.9 L298.3 298.9 L297.9 299.0 L297.5 299.1 L297.1 299.2 L296.7 299.2 L296.3 299.1 L295.8 299.1 L295.4 299.0 L295.0 299.0 L294.5 298.9 L294.0 298.9 L293.5 298.8 L292.9 298.8 L292.3 298.7 L291.6 298.7 L290.9 298.6 L290.0 298.5 L289.1 298.4 L288.1 298.3 L286.9 298.2 L285.4 298.0 L284.0 297.8 L282.3 297.4 L280.4 297.0 L279.6 296.1 L279.6 295.1 L279.6 294.0 L279.6 293.0 L279.6 292.0 L279.6 291.0 L279.6 290.0 L279.6 288.9 L279.6 287.9 L279.6 286.8 L279.6 285.7 L279.6 284.6 L280.0 283.5 L281.7 283.2 L283.3 282.9 L284.7 282.7 L285.9 282.5 L287.3 282.5 L288.6 282.6 L289.7 282.7 L290.7 282.8 L291.6 282.9 L292.4 283.0 L293.2 283.0 L293.9 283.1 L294.5 283.2 L295.1 283.2 L295.6 283.3 L296.2 283.3 L296.7 283.4 L297.2 283.4 L297.6 283.4 L298.1 283.5 L298.6 283.5 L299.0 283.6 L299.4 283.6 L299.9 283.8 L300.3 284.0 L300.7 284.2 L301.0 284.4 L301.4 284.6 L301.8 284.8 L302.1 285.0 L302.5 285.1 L302.9 285.3 L303.2 285.5 L303.6 285.7 L304.0 285.9 L304.3 286.1 L304.7 286.3 L305.1 286.5 L305.6 286.7 L306.0 286.9 L306.5 287.1 L307.0 287.4 L307.5 287.7 L308.1 287.9 L308.7 288.3 L309.3 288.7 L309.7 289.1 L310.2 289.6 L310.7 290.1 L311.3 290.7 L311.9 291.3Z" fill="#e5333a"/>
<path d="M327.6 247.0 L328.5 248.3 L329.4 249.8 L330.4 251.3 L331.5 253.1 L330.8 254.4 L329.5 255.6 L328.4 256.7 L327.2 257.8 L325.3 258.3 L323.3 258.7 L321.6 259.1 L320.1 259.4 L318.6 259.7 L317.4 259.9 L316.2 260.2 L315.1 260.4 L313.9 260.5 L312.8 260.5 L311.8 260.6 L310.9 260.7 L310.0 260.7 L309.1 260.8 L308.3 260.8 L307.5 260.9 L306.7 261.0 L306.0 261.0 L305.2 261.1 L304.5 261.1 L303.7 261.2 L303.0 261.2 L302.3 261.2 L301.5 261.3 L300.7 261.4 L299.9 261.4 L299.1 261.5 L298.3 261.5 L297.4 261.6 L296.5 261.6 L295.6 261.5 L294.7 261.4 L293.7 261.3 L292.7 261.2 L291.6 261.1 L290.4 260.9 L289.2 260.8 L287.8 260.7 L286.3 260.5 L284.7 260.3 L283.4 259.7 L282.1 259.1 L280.6 258.4 L279.6 257.4 L279.6 256.0 L279.6 254.6 L279.6 253.3 L279.6 252.0 L279.6 250.7 L279.6 249.5 L279.6 248.2 L279.6 247.0 L279.6 245.8 L279.6 244.5 L279.6 243.3 L279.6 242.0 L279.6 240.7 L279.6 239.4 L279.6 238.0 L279.6 236.6 L279.7 235.1 L281.0 234.3 L282.2 233.5 L283.3 232.7 L284.4 232.0 L285.7 231.5 L287.2 231.2 L288.5 230.9 L289.8 230.6 L290.9 230.4 L292.1 230.2 L293.2 230.0 L294.2 229.8 L295.2 229.6 L296.2 229.4 L297.2 229.3 L298.3 229.6 L299.4 229.9 L300.3 230.2 L301.3 230.5 L302.1 230.7 L303.0 231.0 L303.8 231.2 L304.6 231.5 L305.4 231.7 L306.2 232.0 L307.0 232.2 L307.7 232.4 L308.5 232.7 L309.3 233.0 L309.9 233.4 L310.6 233.8 L311.3 234.2 L312.0 234.7 L312.7 235.1 L313.3 235.5 L314.0 236.0 L314.8 236.4 L315.5 236.9 L316.3 237.4 L317.1 237.9 L317.9 238.4 L318.8 239.0 L319.6 239.6 L320.4 240.3 L321.2 241.1 L322.2 241.9 L323.2 242.7 L324.2 243.6 L325.4 244.6 L326.7 245.8Z" fill="#e21e25"/>
<path d="M304.2 292.0 L304.4 292.3 L304.6 292.6 L304.8 292.9 L305.1 293.3 L305.3 293.7 L305.0 294.0 L304.6 294.1 L304.2 294.3 L303.8 294.5 L303.5 294.6 L303.2 294.7 L302.9 294.8 L302.6 294.9 L302.4 295.1 L302.2 295.2 L301.9 295.2 L301.7 295.3 L301.5 295.4 L301.3 295.5 L301.1 295.6 L300.9 295.7 L300.7 295.8 L300.5 295.9 L300.3 295.9 L300.1 296.0 L299.9 296.1 L299.7 296.2 L299.4 296.3 L299.2 296.4 L299.0 296.5 L298.8 296.6 L298.5 296.7 L298.2 296.8 L298.0 296.7 L297.7 296.7 L297.5 296.6 L297.2 296.6 L297.0 296.5 L296.7 296.4 L296.5 296.4 L296.2 296.3 L295.9 296.2 L295.6 296.2 L295.3 296.1 L295.0 296.0 L294.7 295.9 L294.3 295.8 L293.9 295.7 L293.4 295.6 L293.3 295.3 L293.1 295.0 L292.9 294.7 L292.8 294.4 L292.6 294.1 L292.5 293.7 L292.3 293.4 L292.5 293.0 L293.2 292.6 L293.7 292.3 L294.2 292.0 L294.6 291.8 L294.9 291.6 L295.2 291.4 L295.5 291.2 L295.7 291.1 L295.9 291.0 L296.1 290.9 L296.2 290.8 L296.4 290.7 L296.6 290.6 L296.7 290.5 L296.8 290.4 L297.0 290.3 L297.1 290.3 L297.2 290.2 L297.3 290.1 L297.4 290.1 L297.5 290.0 L297.7 289.9 L297.8 289.9 L297.9 289.8 L298.0 289.7 L298.1 289.7 L298.2 289.6 L298.4 289.7 L298.5 289.7 L298.6 289.8 L298.8 289.8 L298.9 289.9 L299.0 289.9 L299.1 290.0 L299.2 290.0 L299.3 290.0 L299.4 290.1 L299.5 290.1 L299.6 290.2 L299.7 290.2 L299.8 290.2 L299.9 290.3 L300.0 290.3 L300.1 290.3 L300.2 290.4 L300.3 290.4 L300.4 290.5 L300.5 290.5 L300.6 290.6 L300.7 290.6 L300.8 290.7 L301.0 290.7 L301.1 290.8 L301.3 290.8 L301.5 290.9 L301.7 291.0 L301.9 291.1 L302.1 291.2 L302.4 291.3 L302.7 291.4 L303.1 291.6 L303.6 291.8Z" fill="#e21e25"/>
<path d="M335.7 241.0 L356.7 241.0 L356.7 247.2 L335.7 247.2Z" fill="url(#stip)"/>
<path d="M335.7 266.0 L369.3 266.0 L369.3 285.0 L335.7 285.0Z" fill="url(#stip)"/>
<path d="M373.5 266.0 L392.4 266.0 L392.4 304.0 L373.5 304.0Z" fill="url(#stip)"/>
<path d="M449.0 224.0 L470.0 224.0 L470.0 274.5 L449.0 274.5Z" fill="url(#stip)"/>
<path d="M468.0 241.0 L489.0 241.0 L489.0 245.0 L468.0 245.0Z" fill="url(#stip)"/>
<path d="M333.6 316.5 L354.6 316.5 L354.6 322.8 L333.6 322.8Z" fill="url(#stip)"/>
<path d="M430.0 312.3 L489.0 312.3 L489.0 316.8 L430.0 316.8Z" fill="url(#stip)"/>
<path d="M279.6 335.4 L296.0 335.4 L296.0 341.7 L279.6 341.7Z" fill="url(#stip)"/>
<path d="M392.4 346.0 L413.4 346.0 L413.4 348.2 L392.4 348.2Z" fill="url(#stip)"/>
<path d="M354.6 322.8 L375.6 322.8 L375.6 329.0 L354.6 329.0Z" fill="url(#stip)"/>
<path d="M468.0 286.3 L487.0 286.3 L487.0 292.6 L468.0 292.6Z" fill="url(#stip)"/>
<path d="M384.0 327.0 L392.4 327.0 L392.4 330.4 L384.0 330.4Z" fill="url(#stip)"/>
<path d="M354.6 286.0 L367.2 286.0 L367.2 290.4 L354.6 290.4Z" fill="url(#stip)"/>
<path d="M335.7 303.0 L354.6 303.0 L354.6 308.2 L335.7 308.2Z" fill="url(#stip)"/>
<path d="M384.0 293.6 L392.4 293.6 L392.4 302.0 L384.0 302.0Z" fill="url(#stip)"/>
</g>
<rect x="279.6" y="222.6" width="208.3" height="132.3" fill="none" stroke="#333" stroke-width="1.1"/>
<path d="M279.6 235.00h3 M279.6 247.04h1.8 M279.6 254.08h1.8 M279.6 259.08h1.8 M279.6 262.96h1.8 M279.6 266.13h1.8 M279.6 268.80h1.8 M279.6 271.12h1.8 M279.6 273.17h1.8 M279.6 275.00h3 M279.6 287.04h1.8 M279.6 294.08h1.8 M279.6 299.08h1.8 M279.6 302.96h1.8 M279.6 306.13h1.8 M279.6 308.80h1.8 M279.6 311.12h1.8 M279.6 313.17h1.8 M279.6 315.00h3 M279.6 327.04h1.8 M279.6 334.08h1.8 M279.6 339.08h1.8 M279.6 342.96h1.8 M279.6 346.13h1.8 M279.6 348.80h1.8 M279.6 351.12h1.8 M279.6 353.17h1.8 M279.6 355.00h3 M279.6 222.96h1.8 M279.6 226.13h1.8 M279.6 228.80h1.8 M279.6 231.12h1.8 M279.6 233.17h1.8 M298.54 354.9v-3 M317.47 354.9v-3 M336.41 354.9v-3 M355.35 354.9v-3 M374.28 354.9v-3 M393.22 354.9v-3 M412.15 354.9v-3 M431.09 354.9v-3 M450.03 354.9v-3 M468.96 354.9v-3" stroke="#333" stroke-width="0.9" fill="none"/>
<text x="272.40000000000003" y="239.6" font-family="Liberation Sans, sans-serif" font-size="10.8" text-anchor="end" fill="#231f20">10</text>
<text x="272.70000000000005" y="235.5" font-family="Liberation Sans, sans-serif" font-size="7" fill="#231f20">0</text>
<text x="272.40000000000003" y="279.6" font-family="Liberation Sans, sans-serif" font-size="10.8" text-anchor="end" fill="#231f20">10</text>
<text x="272.70000000000005" y="275.5" font-family="Liberation Sans, sans-serif" font-size="7" fill="#231f20">1</text>
<text x="272.40000000000003" y="319.6" font-family="Liberation Sans, sans-serif" font-size="10.8" text-anchor="end" fill="#231f20">10</text>
<text x="272.70000000000005" y="315.5" font-family="Liberation Sans, sans-serif" font-size="7" fill="#231f20">2</text>
<text x="272.40000000000003" y="359.6" font-family="Liberation Sans, sans-serif" font-size="10.8" text-anchor="end" fill="#231f20">10</text>
<text x="272.70000000000005" y="355.5" font-family="Liberation Sans, sans-serif" font-size="7" fill="#231f20">3</text>
<text x="279.6" y="365.9" font-family="Liberation Sans, sans-serif" font-size="9.6" text-anchor="middle" fill="#231f20">J</text>
<text x="298.5" y="365.9" font-family="Liberation Sans, sans-serif" font-size="9.6" text-anchor="middle" fill="#231f20">F</text>
<text x="317.5" y="365.9" font-family="Liberation Sans, sans-serif" font-size="9.6" text-anchor="middle" fill="#231f20">M</text>
<text x="336.4" y="365.9" font-family="Liberation Sans, sans-serif" font-size="9.6" text-anchor="middle" fill="#231f20">A</text>
<text x="355.3" y="365.9" font-family="Liberation Sans, sans-serif" font-size="9.6" text-anchor="middle" fill="#231f20">M</text>
<text x="374.3" y="365.9" font-family="Liberation Sans, sans-serif" font-size="9.6" text-anchor="middle" fill="#231f20">J</text>
<text x="393.2" y="365.9" font-family="Liberation Sans, sans-serif" font-size="9.6" text-anchor="middle" fill="#231f20">J</text>
<text x="412.2" y="365.9" font-family="Liberation Sans, sans-serif" font-size="9.6" text-anchor="middle" fill="#231f20">A</text>
<text x="431.1" y="365.9" font-family="Liberation Sans, sans-serif" font-size="9.6" text-anchor="middle" fill="#231f20">S</text>
<text x="450.0" y="365.9" font-family="Liberation Sans, sans-serif" font-size="9.6" text-anchor="middle" fill="#231f20">O</text>
<text x="469.0" y="365.9" font-family="Liberation Sans, sans-serif" font-size="9.6" text-anchor="middle" fill="#231f20">N</text>
<text x="487.9" y="365.9" font-family="Liberation Sans, sans-serif" font-size="9.6" text-anchor="middle" fill="#231f20">D</text>
<text x="281.0" y="216.0" font-family="Liberation Sans, sans-serif" font-size="11" fill="#231f20" textLength="141.8" lengthAdjust="spacingAndGlyphs">(d) Last interglacial (127 ka)</text>
<path d="M279.6 371.9 L288.8 368.4 L288.8 375.4 Z" fill="#2b49a5"/>
<path d="M487.90000000000003 371.9 L479.20000000000005 368.4 L479.20000000000005 375.4 Z" fill="#e21e25"/>
<rect x="288.80" y="368.4" width="12.20" height="7.0" fill="#2b49a5"/>
<rect x="300.70" y="368.4" width="12.20" height="7.0" fill="#3c54ae"/>
<rect x="312.60" y="368.4" width="12.20" height="7.0" fill="#5061b6"/>
<rect x="324.50" y="368.4" width="12.20" height="7.0" fill="#6a72be"/>
<rect x="336.40" y="368.4" width="12.20" height="7.0" fill="#888cca"/>
<rect x="348.30" y="368.4" width="12.20" height="7.0" fill="#a6a9d9"/>
<rect x="360.20" y="368.4" width="12.20" height="7.0" fill="#c6c7e7"/>
<rect x="372.10" y="368.4" width="12.20" height="7.0" fill="#e5e5f4"/>
<rect x="384.00" y="368.4" width="12.20" height="7.0" fill="#fde6e7"/>
<rect x="395.90" y="368.4" width="12.20" height="7.0" fill="#f9c4c8"/>
<rect x="407.80" y="368.4" width="12.20" height="7.0" fill="#f4a3a9"/>
<rect x="419.70" y="368.4" width="12.20" height="7.0" fill="#ef8389"/>
<rect x="431.60" y="368.4" width="12.20" height="7.0" fill="#eb646b"/>
<rect x="443.50" y="368.4" width="12.20" height="7.0" fill="#e8494f"/>
<rect x="455.40" y="368.4" width="12.20" height="7.0" fill="#e5333a"/>
<rect x="467.30" y="368.4" width="12.20" height="7.0" fill="#e21e25"/>
<path d="M279.6 371.9 L288.8 368.4 L479.20000000000005 368.4 L487.90000000000003 371.9 L479.20000000000005 375.4 L288.8 375.4 Z" fill="none" stroke="#333" stroke-width="0.9"/>
<path d="M312.60 375.4v-2 M336.40 375.4v-2 M360.20 375.4v-2 M384.00 375.4v-2 M407.80 375.4v-2 M431.60 375.4v-2 M455.40 375.4v-2" stroke="#333" stroke-width="0.8"/>
<text x="288.8" y="386.0" font-family="Liberation Sans, sans-serif" font-size="10.2" text-anchor="middle" fill="#231f20">−0.4</text>
<text x="312.6" y="386.0" font-family="Liberation Sans, sans-serif" font-size="10.2" text-anchor="middle" fill="#231f20">−0.3</text>
<text x="336.4" y="386.0" font-family="Liberation Sans, sans-serif" font-size="10.2" text-anchor="middle" fill="#231f20">−0.2</text>
<text x="360.2" y="386.0" font-family="Liberation Sans, sans-serif" font-size="10.2" text-anchor="middle" fill="#231f20">−0.1</text>
<text x="384.0" y="386.0" font-family="Liberation Sans, sans-serif" font-size="10.2" text-anchor="middle" fill="#231f20">0.0</text>
<text x="407.8" y="386.0" font-family="Liberation Sans, sans-serif" font-size="10.2" text-anchor="middle" fill="#231f20">0.1</text>
<text x="431.6" y="386.0" font-family="Liberation Sans, sans-serif" font-size="10.2" text-anchor="middle" fill="#231f20">0.2</text>
<text x="455.4" y="386.0" font-family="Liberation Sans, sans-serif" font-size="10.2" text-anchor="middle" fill="#231f20">0.3</text>
<text x="479.2" y="386.0" font-family="Liberation Sans, sans-serif" font-size="10.2" text-anchor="middle" fill="#231f20">0.4</text>
<text x="273.0" y="399.4" font-family="Liberation Sans, sans-serif" font-size="12" fill="#231f20" textLength="222.8" lengthAdjust="spacingAndGlyphs">O<tspan font-size="8" dy="3">3</tspan><tspan dy="-3"> mixing ratio anomaly (60–90˚N) (ppmv)</tspan></text>
<g clip-path="url(#clipe)">
<rect x="39.6" y="427.6" width="208.3" height="132.3" fill="#e4e5f4"/>
<path d="M70.5 427.0 L150.0 427.0 L158.3 439.6 L166.7 448.0 L173.0 456.4 L177.2 464.8 L179.3 477.4 L179.7 490.0 L181.8 502.6 L186.0 511.0 L190.2 519.4 L186.0 523.6 L177.6 528.8 L181.8 534.1 L181.8 561.0 L112.5 561.0 L114.6 542.5 L123.0 540.4 L131.4 538.3 L125.1 534.0 L131.4 530.0 L131.4 521.5 L123.0 511.0 L112.5 500.5 L102.0 492.0 L97.0 484.0 L93.0 470.0 L87.0 456.0 L80.0 443.0 L74.0 434.0Z" fill="#fde6e7"/>
<path d="M75.8 427.0 L122.0 427.0 L122.6 433.3 L141.5 445.9 L154.1 454.3 L159.3 464.8 L160.4 479.5 L159.3 490.0 L156.6 496.0 L151.0 502.0 L144.0 506.8 L135.6 505.0 L123.0 498.4 L112.0 490.0 L102.0 484.0 L95.7 477.0 L91.5 464.8 L87.3 448.0 L81.0 437.5Z" fill="#f8c1c5"/>
<path d="M90.4 427.0 L108.3 427.0 L110.0 439.6 L122.6 445.9 L133.1 456.4 L136.2 469.0 L133.1 479.5 L122.6 485.8 L110.0 488.0 L104.0 482.0 L97.8 469.0 L93.6 458.5 L91.5 448.0 L89.4 435.4Z" fill="#f3a0a6"/>
<path d="M94.6 427.0 L102.0 427.0 L104.1 439.6 L110.4 450.1 L117.8 458.5 L118.4 466.9 L108.3 466.9 L99.9 458.5 L95.7 450.1 L93.6 439.6Z" fill="#ee8087"/>
<path d="M39.6 427.0 L64.2 427.0 L70.5 437.5 L76.8 445.9 L81.0 456.4 L84.2 466.9 L88.4 479.5 L93.5 492.0 L97.8 502.6 L110.4 511.0 L118.8 519.4 L117.8 525.7 L106.2 527.8 L95.7 526.8 L87.3 519.4 L78.9 508.9 L72.0 498.0 L71.0 488.0 L71.0 475.0 L69.0 466.0 L66.3 458.5 L57.9 452.2 L47.4 445.9 L39.6 441.0Z" fill="#c2c3e6"/>
<path d="M72.6 462.7 L78.0 461.0 L81.0 470.0 L81.0 485.8 L76.0 486.0 L73.0 478.0Z" fill="#9a9dd5"/>
<path d="M46.0 486.0 L55.0 487.0 L60.0 493.0 L62.0 503.0 L62.0 521.0 L66.0 531.0 L58.0 536.0 L52.0 530.0 L47.0 517.0 L45.0 503.0 L44.0 492.0Z" fill="#fde6e7"/>
<path d="M197.0 427.0 L221.0 427.0 L219.0 440.0 L217.0 455.0 L217.0 470.0 L217.5 490.0 L215.4 502.6 L211.2 513.1 L209.1 516.0 L206.0 506.8 L201.7 498.4 L200.0 490.0 L198.2 469.0 L196.1 458.5 L194.0 448.0 L196.1 439.6Z" fill="#c2c3e6"/>
<path d="M196.5 529.9 L202.8 526.7 L211.2 524.6 L221.7 528.8 L215.4 532.0 L207.0 533.0 L198.6 532.0Z" fill="#c2c3e6"/>
<path d="M232.0 444.0 L240.0 442.0 L249.0 441.0 L249.0 505.0 L240.0 503.0 L236.0 498.0 L232.0 485.0 L230.0 465.0Z" fill="#fde6e7"/>
<path d="M137.7 542.5 L144.0 538.5 L152.4 531.0 L154.5 534.1 L160.8 540.4 L167.1 546.7 L165.0 553.0 L160.0 561.0 L137.7 561.0Z" fill="#f8c1c5"/>
<path d="M152.4 429.0 L173.4 429.0 L173.4 439.0 L152.4 439.0Z" fill="url(#stip)"/>
<path d="M39.6 429.0 L98.0 429.0 L98.0 536.0 L39.6 536.0Z" fill="url(#stip)"/>
<path d="M96.0 466.0 L115.4 466.0 L115.4 488.0 L96.0 488.0Z" fill="url(#stip)"/>
<path d="M115.4 490.0 L135.0 490.0 L135.0 508.0 L115.4 508.0Z" fill="url(#stip)"/>
<path d="M39.6 536.0 L78.3 536.0 L78.3 558.0 L39.6 558.0Z" fill="url(#stip)"/>
<path d="M98.0 536.0 L115.4 536.0 L115.4 538.4 L98.0 538.4Z" fill="url(#stip)"/>
<path d="M115.4 538.4 L135.0 538.4 L135.0 558.0 L115.4 558.0Z" fill="url(#stip)"/>
<path d="M144.0 521.5 L152.4 521.5 L152.4 524.6 L144.0 524.6Z" fill="url(#stip)"/>
<path d="M144.0 532.0 L152.4 532.0 L152.4 535.2 L144.0 535.2Z" fill="url(#stip)"/>
<path d="M190.2 515.2 L209.1 515.2 L209.1 524.6 L190.2 524.6Z" fill="url(#stip)"/>
<path d="M228.0 443.8 L249.0 443.8 L249.0 517.3 L228.0 517.3Z" fill="url(#stip)"/>
<path d="M230.0 532.0 L249.0 532.0 L249.0 537.2 L230.0 537.2Z" fill="url(#stip)"/>
</g>
<rect x="39.6" y="427.6" width="208.3" height="132.3" fill="none" stroke="#333" stroke-width="1.1"/>
<path d="M39.6 440.00h3 M39.6 452.04h1.8 M39.6 459.08h1.8 M39.6 464.08h1.8 M39.6 467.96h1.8 M39.6 471.13h1.8 M39.6 473.80h1.8 M39.6 476.12h1.8 M39.6 478.17h1.8 M39.6 480.00h3 M39.6 492.04h1.8 M39.6 499.08h1.8 M39.6 504.08h1.8 M39.6 507.96h1.8 M39.6 511.13h1.8 M39.6 513.80h1.8 M39.6 516.12h1.8 M39.6 518.17h1.8 M39.6 520.00h3 M39.6 532.04h1.8 M39.6 539.08h1.8 M39.6 544.08h1.8 M39.6 547.96h1.8 M39.6 551.13h1.8 M39.6 553.80h1.8 M39.6 556.12h1.8 M39.6 558.17h1.8 M39.6 560.00h3 M39.6 427.96h1.8 M39.6 431.13h1.8 M39.6 433.80h1.8 M39.6 436.12h1.8 M39.6 438.17h1.8 M58.54 559.9000000000001v-3 M77.47 559.9000000000001v-3 M96.41 559.9000000000001v-3 M115.35 559.9000000000001v-3 M134.28 559.9000000000001v-3 M153.22 559.9000000000001v-3 M172.15 559.9000000000001v-3 M191.09 559.9000000000001v-3 M210.03 559.9000000000001v-3 M228.96 559.9000000000001v-3" stroke="#333" stroke-width="0.9" fill="none"/>
<text x="32.4" y="444.6" font-family="Liberation Sans, sans-serif" font-size="10.8" text-anchor="end" fill="#231f20">10</text>
<text x="32.7" y="440.5" font-family="Liberation Sans, sans-serif" font-size="7" fill="#231f20">0</text>
<text x="32.4" y="484.6" font-family="Liberation Sans, sans-serif" font-size="10.8" text-anchor="end" fill="#231f20">10</text>
<text x="32.7" y="480.5" font-family="Liberation Sans, sans-serif" font-size="7" fill="#231f20">1</text>
<text x="32.4" y="524.6" font-family="Liberation Sans, sans-serif" font-size="10.8" text-anchor="end" fill="#231f20">10</text>
<text x="32.7" y="520.5" font-family="Liberation Sans, sans-serif" font-size="7" fill="#231f20">2</text>
<text x="32.4" y="564.6" font-family="Liberation Sans, sans-serif" font-size="10.8" text-anchor="end" fill="#231f20">10</text>
<text x="32.7" y="560.5" font-family="Liberation Sans, sans-serif" font-size="7" fill="#231f20">3</text>
<text x="39.6" y="570.9000000000001" font-family="Liberation Sans, sans-serif" font-size="9.6" text-anchor="middle" fill="#231f20">J</text>
<text x="58.5" y="570.9000000000001" font-family="Liberation Sans, sans-serif" font-size="9.6" text-anchor="middle" fill="#231f20">F</text>
<text x="77.5" y="570.9000000000001" font-family="Liberation Sans, sans-serif" font-size="9.6" text-anchor="middle" fill="#231f20">M</text>
<text x="96.4" y="570.9000000000001" font-family="Liberation Sans, sans-serif" font-size="9.6" text-anchor="middle" fill="#231f20">A</text>
<text x="115.3" y="570.9000000000001" font-family="Liberation Sans, sans-serif" font-size="9.6" text-anchor="middle" fill="#231f20">M</text>
<text x="134.3" y="570.9000000000001" font-family="Liberation Sans, sans-serif" font-size="9.6" text-anchor="middle" fill="#231f20">J</text>
<text x="153.2" y="570.9000000000001" font-family="Liberation Sans, sans-serif" font-size="9.6" text-anchor="middle" fill="#231f20">J</text>
<text x="172.2" y="570.9000000000001" font-family="Liberation Sans, sans-serif" font-size="9.6" text-anchor="middle" fill="#231f20">A</text>
<text x="191.1" y="570.9000000000001" font-family="Liberation Sans, sans-serif" font-size="9.6" text-anchor="middle" fill="#231f20">S</text>
<text x="210.0" y="570.9000000000001" font-family="Liberation Sans, sans-serif" font-size="9.6" text-anchor="middle" fill="#231f20">O</text>
<text x="229.0" y="570.9000000000001" font-family="Liberation Sans, sans-serif" font-size="9.6" text-anchor="middle" fill="#231f20">N</text>
<text x="247.9" y="570.9000000000001" font-family="Liberation Sans, sans-serif" font-size="9.6" text-anchor="middle" fill="#231f20">D</text>
<text x="41.0" y="418.8" font-family="Liberation Sans, sans-serif" font-size="11" fill="#231f20" textLength="121" lengthAdjust="spacingAndGlyphs">(e) mid Holocene (6 ka)</text>
<path d="M39.6 577.3000000000001 L48.8 573.8000000000001 L48.8 580.8000000000001 Z" fill="#2b4ba6"/>
<path d="M247.9 577.3000000000001 L239.2 573.8000000000001 L239.2 580.8000000000001 Z" fill="#e01e26"/>
<rect x="48.80" y="573.8000000000001" width="13.90" height="7.0" fill="#2b4ba6"/>
<rect x="62.40" y="573.8000000000001" width="13.90" height="7.0" fill="#3b55b0"/>
<rect x="76.00" y="573.8000000000001" width="13.90" height="7.0" fill="#5261b8"/>
<rect x="89.60" y="573.8000000000001" width="13.90" height="7.0" fill="#7479c3"/>
<rect x="103.20" y="573.8000000000001" width="13.90" height="7.0" fill="#9a9dd5"/>
<rect x="116.80" y="573.8000000000001" width="13.90" height="7.0" fill="#c2c3e6"/>
<rect x="130.40" y="573.8000000000001" width="13.90" height="7.0" fill="#e4e5f4"/>
<rect x="144.00" y="573.8000000000001" width="13.90" height="7.0" fill="#fde6e7"/>
<rect x="157.60" y="573.8000000000001" width="13.90" height="7.0" fill="#f8c1c5"/>
<rect x="171.20" y="573.8000000000001" width="13.90" height="7.0" fill="#f3a0a6"/>
<rect x="184.80" y="573.8000000000001" width="13.90" height="7.0" fill="#ee8087"/>
<rect x="198.40" y="573.8000000000001" width="13.90" height="7.0" fill="#e95f66"/>
<rect x="212.00" y="573.8000000000001" width="13.90" height="7.0" fill="#e53e44"/>
<rect x="225.60" y="573.8000000000001" width="13.90" height="7.0" fill="#e01e26"/>
<path d="M39.6 577.3000000000001 L48.8 573.8000000000001 L239.2 573.8000000000001 L247.9 577.3000000000001 L239.2 580.8000000000001 L48.8 580.8000000000001 Z" fill="none" stroke="#333" stroke-width="0.9"/>
<path d="M62.40 580.8000000000001v-2 M89.60 580.8000000000001v-2 M116.80 580.8000000000001v-2 M144.00 580.8000000000001v-2 M171.20 580.8000000000001v-2 M198.40 580.8000000000001v-2 M225.60 580.8000000000001v-2" stroke="#333" stroke-width="0.8"/>
<text x="62.4" y="591.4" font-family="Liberation Sans, sans-serif" font-size="10" text-anchor="middle" fill="#231f20">−6</text>
<text x="89.6" y="591.4" font-family="Liberation Sans, sans-serif" font-size="10" text-anchor="middle" fill="#231f20">−4</text>
<text x="116.8" y="591.4" font-family="Liberation Sans, sans-serif" font-size="10" text-anchor="middle" fill="#231f20">−2</text>
<text x="144.0" y="591.4" font-family="Liberation Sans, sans-serif" font-size="10" text-anchor="middle" fill="#231f20">0</text>
<text x="171.2" y="591.4" font-family="Liberation Sans, sans-serif" font-size="10" text-anchor="middle" fill="#231f20">2</text>
<text x="198.4" y="591.4" font-family="Liberation Sans, sans-serif" font-size="10" text-anchor="middle" fill="#231f20">4</text>
<text x="225.6" y="591.4" font-family="Liberation Sans, sans-serif" font-size="10" text-anchor="middle" fill="#231f20">6</text>
<text x="72.4" y="603.9" font-family="Liberation Sans, sans-serif" font-size="12.4" fill="#231f20" textLength="145" lengthAdjust="spacingAndGlyphs">Air temperature anomaly (K)</text>
<g clip-path="url(#clipf)">
<rect x="279.6" y="427.6" width="208.3" height="132.3" fill="#e4e5f4"/>
<path d="M279.6 435.0 L292.0 437.5 L300.0 448.0 L298.0 458.5 L279.6 458.5Z" fill="#c2c3e6"/>
<path d="M279.6 460.0 L300.0 460.0 L312.0 470.0 L316.8 486.0 L300.0 486.0 L279.6 486.0Z" fill="#c2c3e6"/>
<path d="M281.0 494.0 L295.0 492.0 L306.3 500.0 L306.0 520.0 L300.0 540.4 L290.0 535.0 L282.0 520.0Z" fill="#fde6e7"/>
<path d="M330.4 514.0 L337.8 516.0 L337.8 523.6 L330.4 523.0Z" fill="#c2c3e6"/>
<path d="M298.0 427.0 L361.8 427.0 L372.0 435.0 L383.4 443.2 L394.2 455.8 L399.6 468.4 L403.2 481.0 L405.0 494.0 L408.0 502.6 L410.1 515.2 L405.9 523.6 L393.3 528.8 L408.0 532.0 L412.2 540.4 L414.3 561.0 L335.0 561.0 L336.0 540.0 L340.0 530.0 L338.0 520.0 L332.0 505.0 L325.0 495.0 L318.0 485.0 L312.0 470.0 L305.0 455.0 L300.0 440.0Z" fill="#fde6e7"/>
<path d="M307.0 427.0 L352.8 427.0 L374.4 441.4 L387.0 454.0 L394.2 466.6 L396.0 481.0 L396.0 499.0 L396.4 502.6 L398.5 515.2 L391.2 525.7 L382.8 528.8 L365.0 528.0 L352.0 526.0 L346.0 518.0 L343.0 505.0 L338.0 496.0 L333.6 490.0 L325.2 477.4 L318.9 464.8 L314.7 452.2 L310.5 439.6Z" fill="#f8c1c5"/>
<path d="M316.8 427.0 L351.0 427.0 L369.0 439.6 L379.8 452.2 L387.0 463.0 L388.8 477.4 L387.0 491.8 L383.4 502.6 L378.6 510.0 L374.4 515.0 L370.2 517.3 L361.8 513.1 L355.5 506.8 L350.0 498.0 L340.2 484.6 L330.0 467.0 L325.2 452.2 L321.0 439.6Z" fill="#f3a0a6"/>
<path d="M327.0 427.0 L344.0 427.0 L358.2 437.8 L369.0 446.8 L376.2 457.6 L378.0 472.0 L375.0 485.0 L370.0 494.0 L362.0 498.0 L354.0 494.0 L343.8 481.0 L334.8 473.8 L327.0 459.4 L323.5 445.0 L324.5 434.0Z" fill="#ee8087"/>
<path d="M327.0 433.0 L336.6 429.5 L349.2 437.8 L361.8 450.4 L369.0 461.2 L367.2 472.0 L358.2 479.2 L347.4 477.4 L336.6 472.0 L329.4 457.6 L326.0 443.0Z" fill="#e95f66"/>
<path d="M329.4 437.8 L334.8 437.8 L347.4 446.8 L358.2 455.8 L360.0 463.0 L356.4 470.2 L347.4 470.2 L334.8 466.6 L331.2 454.0Z" fill="#e53e44"/>
<path d="M334.8 443.2 L342.0 446.8 L354.6 458.5 L353.7 462.1 L342.0 462.1 L334.8 457.6Z" fill="#e01e26"/>
<path d="M345.0 538.3 L357.6 535.2 L376.5 533.0 L397.5 534.1 L405.9 540.4 L408.0 550.9 L405.9 561.0 L345.0 561.0Z" fill="#f8c1c5"/>
<path d="M359.7 544.6 L370.2 538.3 L391.2 535.2 L399.6 538.3 L401.7 546.7 L397.5 555.1 L387.0 561.0 L361.8 561.0Z" fill="#f3a0a6"/>
<path d="M370.2 544.6 L382.8 540.4 L393.3 539.4 L391.2 546.7 L382.8 553.0 L372.3 553.0 L368.1 548.8Z" fill="#ee8087"/>
<path d="M372.6 427.0 L462.9 427.0 L464.9 444.5 L460.6 455.4 L460.6 503.4 L467.1 514.3 L480.2 525.2 L478.0 534.0 L469.3 540.5 L462.7 561.0 L420.6 561.0 L418.5 536.2 L408.0 531.0 L393.3 530.0 L393.3 528.0 L408.0 526.7 L414.3 521.5 L418.5 506.8 L416.7 494.0 L414.6 481.6 L412.5 469.0 L406.2 456.4 L397.8 443.8 L385.2 435.4Z" fill="#c2c3e6"/>
<path d="M383.1 427.0 L452.4 427.0 L452.9 440.0 L451.8 470.6 L451.8 510.0 L462.7 520.8 L471.5 527.4 L464.9 534.0 L451.8 536.1 L449.6 558.0 L433.2 561.0 L429.0 542.5 L420.6 532.0 L412.2 527.8 L420.6 523.6 L429.0 511.0 L425.1 494.0 L423.0 479.5 L419.8 466.9 L414.6 454.3 L406.2 443.8 L399.9 433.3Z" fill="#9a9dd5"/>
<path d="M393.6 427.0 L429.3 427.0 L431.4 431.2 L433.5 439.6 L434.5 456.4 L431.4 462.7 L427.2 450.1 L414.6 443.8 L404.1 435.4Z" fill="#7479c3"/>
<path d="M416.4 528.2 L424.8 525.0 L437.0 522.0 L450.0 520.0 L460.0 524.0 L465.0 528.0 L458.0 532.5 L450.0 534.0 L439.5 534.1 L424.8 531.0Z" fill="#7479c3"/>
<path d="M430.0 540.5 L445.0 541.0 L451.8 548.0 L445.0 551.4 L430.0 551.0Z" fill="#7479c3"/>
<path d="M420.6 527.8 L433.2 526.1 L450.0 525.3 L455.0 527.0 L450.0 531.0 L433.2 530.5Z" fill="#5261b8"/>
<path d="M429.0 527.6 L445.8 527.0 L448.0 528.5 L445.8 529.8 L429.0 529.8Z" fill="#3b55b0"/>
<path d="M468.2 453.2 L478.0 451.0 L488.0 448.8 L488.0 512.1 L482.4 507.8 L473.6 496.8 L469.3 481.6Z" fill="#fde6e7"/>
<path d="M298.0 427.0 L335.7 427.0 L335.7 458.5 L298.0 458.5Z" fill="url(#stip)"/>
<path d="M279.6 458.5 L316.8 458.5 L316.8 490.0 L279.6 490.0Z" fill="url(#stip)"/>
<path d="M316.8 458.5 L330.0 458.5 L330.0 479.5 L316.8 479.5Z" fill="url(#stip)"/>
<path d="M316.8 479.5 L356.7 479.5 L356.7 494.0 L316.8 494.0Z" fill="url(#stip)"/>
<path d="M279.6 490.0 L348.3 490.0 L348.3 560.0 L279.6 560.0Z" fill="url(#stip)"/>
<path d="M335.7 513.0 L373.5 513.0 L373.5 532.0 L335.7 532.0Z" fill="url(#stip)"/>
<path d="M372.6 433.3 L393.6 433.3 L393.6 438.5 L372.6 438.5Z" fill="url(#stip)"/>
<path d="M412.2 509.0 L431.1 509.0 L431.1 513.0 L412.2 513.0Z" fill="url(#stip)"/>
<path d="M412.2 517.3 L429.0 517.3 L429.0 519.4 L412.2 519.4Z" fill="url(#stip)"/>
<path d="M393.3 526.7 L412.2 526.7 L412.2 528.8 L393.3 528.8Z" fill="url(#stip)"/>
<path d="M470.0 437.5 L489.0 437.5 L489.0 496.3 L470.0 496.3Z" fill="url(#stip)"/>
<path d="M345.0 490.0 L355.5 490.0 L355.5 513.0 L345.0 513.0Z" fill="url(#stip)"/>
<path d="M412.2 551.0 L429.0 551.0 L429.0 557.0 L412.2 557.0Z" fill="url(#stip)"/>
</g>
<rect x="279.6" y="427.6" width="208.3" height="132.3" fill="none" stroke="#333" stroke-width="1.1"/>
<path d="M279.6 440.00h3 M279.6 452.04h1.8 M279.6 459.08h1.8 M279.6 464.08h1.8 M279.6 467.96h1.8 M279.6 471.13h1.8 M279.6 473.80h1.8 M279.6 476.12h1.8 M279.6 478.17h1.8 M279.6 480.00h3 M279.6 492.04h1.8 M279.6 499.08h1.8 M279.6 504.08h1.8 M279.6 507.96h1.8 M279.6 511.13h1.8 M279.6 513.80h1.8 M279.6 516.12h1.8 M279.6 518.17h1.8 M279.6 520.00h3 M279.6 532.04h1.8 M279.6 539.08h1.8 M279.6 544.08h1.8 M279.6 547.96h1.8 M279.6 551.13h1.8 M279.6 553.80h1.8 M279.6 556.12h1.8 M279.6 558.17h1.8 M279.6 560.00h3 M279.6 427.96h1.8 M279.6 431.13h1.8 M279.6 433.80h1.8 M279.6 436.12h1.8 M279.6 438.17h1.8 M298.54 559.9000000000001v-3 M317.47 559.9000000000001v-3 M336.41 559.9000000000001v-3 M355.35 559.9000000000001v-3 M374.28 559.9000000000001v-3 M393.22 559.9000000000001v-3 M412.15 559.9000000000001v-3 M431.09 559.9000000000001v-3 M450.03 559.9000000000001v-3 M468.96 559.9000000000001v-3" stroke="#333" stroke-width="0.9" fill="none"/>
<text x="272.40000000000003" y="444.6" font-family="Liberation Sans, sans-serif" font-size="10.8" text-anchor="end" fill="#231f20">10</text>
<text x="272.70000000000005" y="440.5" font-family="Liberation Sans, sans-serif" font-size="7" fill="#231f20">0</text>
<text x="272.40000000000003" y="484.6" font-family="Liberation Sans, sans-serif" font-size="10.8" text-anchor="end" fill="#231f20">10</text>
<text x="272.70000000000005" y="480.5" font-family="Liberation Sans, sans-serif" font-size="7" fill="#231f20">1</text>
<text x="272.40000000000003" y="524.6" font-family="Liberation Sans, sans-serif" font-size="10.8" text-anchor="end" fill="#231f20">10</text>
<text x="272.70000000000005" y="520.5" font-family="Liberation Sans, sans-serif" font-size="7" fill="#231f20">2</text>
<text x="272.40000000000003" y="564.6" font-family="Liberation Sans, sans-serif" font-size="10.8" text-anchor="end" fill="#231f20">10</text>
<text x="272.70000000000005" y="560.5" font-family="Liberation Sans, sans-serif" font-size="7" fill="#231f20">3</text>
<text x="279.6" y="570.9000000000001" font-family="Liberation Sans, sans-serif" font-size="9.6" text-anchor="middle" fill="#231f20">J</text>
<text x="298.5" y="570.9000000000001" font-family="Liberation Sans, sans-serif" font-size="9.6" text-anchor="middle" fill="#231f20">F</text>
<text x="317.5" y="570.9000000000001" font-family="Liberation Sans, sans-serif" font-size="9.6" text-anchor="middle" fill="#231f20">M</text>
<text x="336.4" y="570.9000000000001" font-family="Liberation Sans, sans-serif" font-size="9.6" text-anchor="middle" fill="#231f20">A</text>
<text x="355.3" y="570.9000000000001" font-family="Liberation Sans, sans-serif" font-size="9.6" text-anchor="middle" fill="#231f20">M</text>
<text x="374.3" y="570.9000000000001" font-family="Liberation Sans, sans-serif" font-size="9.6" text-anchor="middle" fill="#231f20">J</text>
<text x="393.2" y="570.9000000000001" font-family="Liberation Sans, sans-serif" font-size="9.6" text-anchor="middle" fill="#231f20">J</text>
<text x="412.2" y="570.9000000000001" font-family="Liberation Sans, sans-serif" font-size="9.6" text-anchor="middle" fill="#231f20">A</text>
<text x="431.1" y="570.9000000000001" font-family="Liberation Sans, sans-serif" font-size="9.6" text-anchor="middle" fill="#231f20">S</text>
<text x="450.0" y="570.9000000000001" font-family="Liberation Sans, sans-serif" font-size="9.6" text-anchor="middle" fill="#231f20">O</text>
<text x="469.0" y="570.9000000000001" font-family="Liberation Sans, sans-serif" font-size="9.6" text-anchor="middle" fill="#231f20">N</text>
<text x="487.9" y="570.9000000000001" font-family="Liberation Sans, sans-serif" font-size="9.6" text-anchor="middle" fill="#231f20">D</text>
<text x="281.0" y="418.8" font-family="Liberation Sans, sans-serif" font-size="11" fill="#231f20" textLength="141.8" lengthAdjust="spacingAndGlyphs">(f) Last interglacial (127 ka)</text>
<path d="M279.6 577.3000000000001 L288.8 573.8000000000001 L288.8 580.8000000000001 Z" fill="#2b4ba6"/>
<path d="M487.90000000000003 577.3000000000001 L479.20000000000005 573.8000000000001 L479.20000000000005 580.8000000000001 Z" fill="#e01e26"/>
<rect x="288.80" y="573.8000000000001" width="13.90" height="7.0" fill="#2b4ba6"/>
<rect x="302.40" y="573.8000000000001" width="13.90" height="7.0" fill="#3b55b0"/>
<rect x="316.00" y="573.8000000000001" width="13.90" height="7.0" fill="#5261b8"/>
<rect x="329.60" y="573.8000000000001" width="13.90" height="7.0" fill="#7479c3"/>
<rect x="343.20" y="573.8000000000001" width="13.90" height="7.0" fill="#9a9dd5"/>
<rect x="356.80" y="573.8000000000001" width="13.90" height="7.0" fill="#c2c3e6"/>
<rect x="370.40" y="573.8000000000001" width="13.90" height="7.0" fill="#e4e5f4"/>
<rect x="384.00" y="573.8000000000001" width="13.90" height="7.0" fill="#fde6e7"/>
<rect x="397.60" y="573.8000000000001" width="13.90" height="7.0" fill="#f8c1c5"/>
<rect x="411.20" y="573.8000000000001" width="13.90" height="7.0" fill="#f3a0a6"/>
<rect x="424.80" y="573.8000000000001" width="13.90" height="7.0" fill="#ee8087"/>
<rect x="438.40" y="573.8000000000001" width="13.90" height="7.0" fill="#e95f66"/>
<rect x="452.00" y="573.8000000000001" width="13.90" height="7.0" fill="#e53e44"/>
<rect x="465.60" y="573.8000000000001" width="13.90" height="7.0" fill="#e01e26"/>
<path d="M279.6 577.3000000000001 L288.8 573.8000000000001 L479.20000000000005 573.8000000000001 L487.90000000000003 577.3000000000001 L479.20000000000005 580.8000000000001 L288.8 580.8000000000001 Z" fill="none" stroke="#333" stroke-width="0.9"/>
<path d="M302.40 580.8000000000001v-2 M329.60 580.8000000000001v-2 M356.80 580.8000000000001v-2 M384.00 580.8000000000001v-2 M411.20 580.8000000000001v-2 M438.40 580.8000000000001v-2 M465.60 580.8000000000001v-2" stroke="#333" stroke-width="0.8"/>
<text x="302.4" y="591.4" font-family="Liberation Sans, sans-serif" font-size="10" text-anchor="middle" fill="#231f20">−6</text>
<text x="329.6" y="591.4" font-family="Liberation Sans, sans-serif" font-size="10" text-anchor="middle" fill="#231f20">−4</text>
<text x="356.8" y="591.4" font-family="Liberation Sans, sans-serif" font-size="10" text-anchor="middle" fill="#231f20">−2</text>
<text x="384.0" y="591.4" font-family="Liberation Sans, sans-serif" font-size="10" text-anchor="middle" fill="#231f20">0</text>
<text x="411.2" y="591.4" font-family="Liberation Sans, sans-serif" font-size="10" text-anchor="middle" fill="#231f20">2</text>
<text x="438.4" y="591.4" font-family="Liberation Sans, sans-serif" font-size="10" text-anchor="middle" fill="#231f20">4</text>
<text x="465.6" y="591.4" font-family="Liberation Sans, sans-serif" font-size="10" text-anchor="middle" fill="#231f20">6</text>
<text x="312.40000000000003" y="603.9" font-family="Liberation Sans, sans-serif" font-size="12.4" fill="#231f20" textLength="145" lengthAdjust="spacingAndGlyphs">Air temperature anomaly (K)</text>
<text transform="translate(13.8 90.5) rotate(-90)" font-family="Liberation Sans, sans-serif" font-size="12.2" text-anchor="middle" fill="#231f20" textLength="75.5" lengthAdjust="spacingAndGlyphs">Pressure (hPa)</text>
<text transform="translate(13.8 292.4) rotate(-90)" font-family="Liberation Sans, sans-serif" font-size="12.2" text-anchor="middle" fill="#231f20" textLength="75.5" lengthAdjust="spacingAndGlyphs">Pressure (hPa)</text>
<text transform="translate(13.8 497.4) rotate(-90)" font-family="Liberation Sans, sans-serif" font-size="12.2" text-anchor="middle" fill="#231f20" textLength="75.5" lengthAdjust="spacingAndGlyphs">Pressure (hPa)</text>
</svg></body></html>
